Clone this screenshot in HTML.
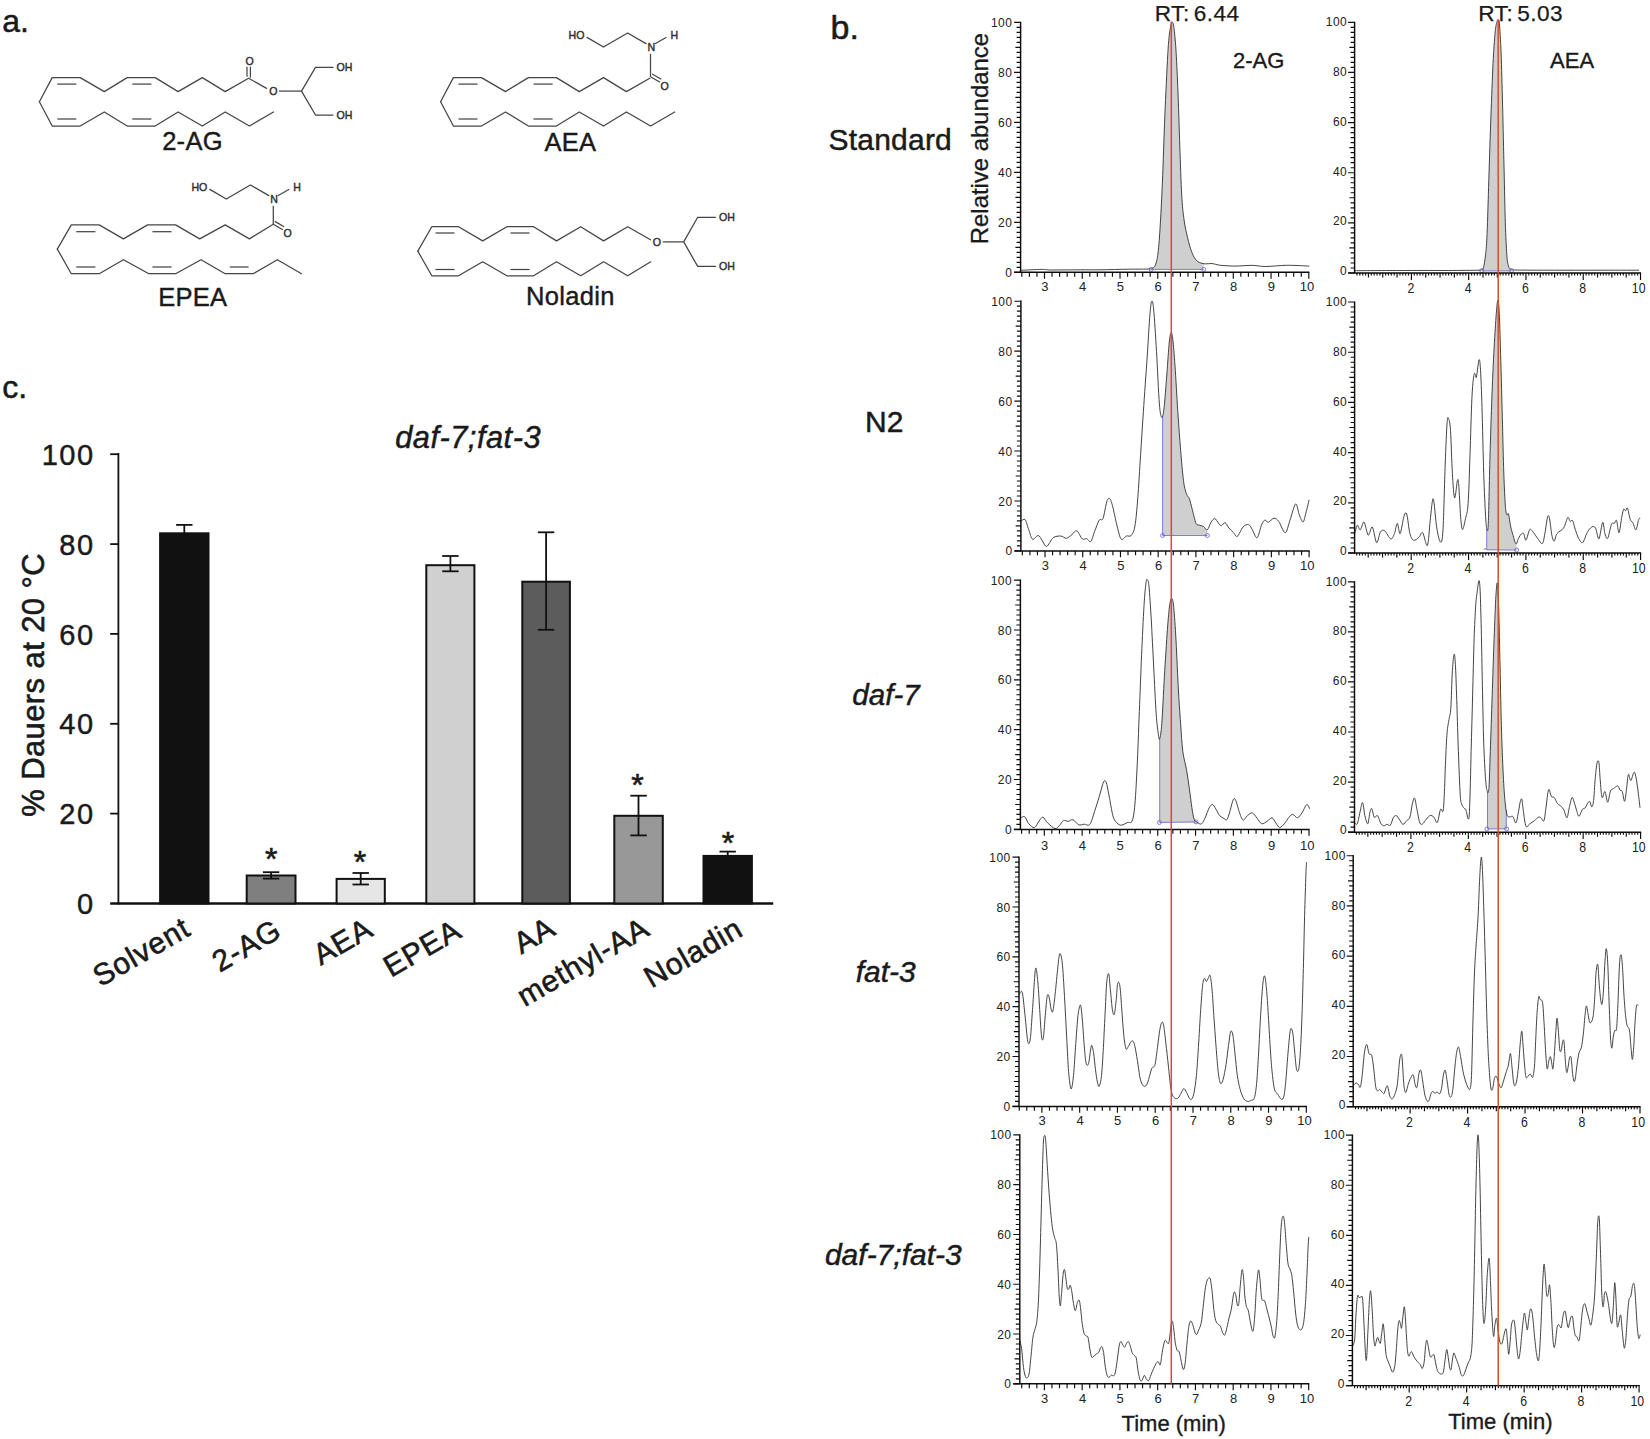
<!DOCTYPE html>
<html lang="en"><head><meta charset="utf-8"><title>Figure</title>
<style>html,body{margin:0;padding:0;background:#fff}body{width:1650px;height:1439px;overflow:hidden}svg text{font-family:"Liberation Sans",sans-serif}</style></head>
<body>
<svg width="1650" height="1439" viewBox="0 0 1650 1439" font-family='"Liberation Sans", sans-serif' style="display:block">
<g id="panel-a">
<text x="2.3" y="31.8" font-size="32" text-anchor="start" fill="#1a1a1a" stroke="#1a1a1a" stroke-width="0.51" >a.</text>
<polyline points="39.4,101.8 52.2,77.6 80.2,77.6 104.3,91.6 127.2,77.6 155.2,77.6 178.1,91.6 202.3,77.6 225.2,91.6 248.6,78.2" fill="none" stroke="#454545" stroke-width="1.25" stroke-linejoin="round" stroke-linecap="round" />
<polyline points="39.4,101.8 52.2,126.0 80.2,126.0 104.3,112.0 127.2,126.0 155.2,126.0 178.1,112.0 202.3,126.0 225.2,112.0 249.4,126.0 273.5,112.0" fill="none" stroke="#454545" stroke-width="1.25" stroke-linejoin="round" stroke-linecap="round" />
<line x1="57.3" y1="84.1" x2="76.3" y2="84.1" stroke="#454545" stroke-width="1.25" />
<line x1="132.3" y1="84.1" x2="151.4" y2="84.1" stroke="#454545" stroke-width="1.25" />
<line x1="57.3" y1="119.0" x2="76.3" y2="119.0" stroke="#454545" stroke-width="1.25" />
<line x1="132.3" y1="119.0" x2="151.4" y2="119.0" stroke="#454545" stroke-width="1.25" />
<line x1="247.0" y1="76.7" x2="247.0" y2="66.7" stroke="#454545" stroke-width="1.25" />
<line x1="250.4" y1="77.7" x2="250.4" y2="66.7" stroke="#454545" stroke-width="1.25" />
<text x="249.5" y="64.8" font-size="10.6" text-anchor="middle" fill="#2e2e2e" stroke="#2e2e2e" stroke-width="0.40" >O</text>
<line x1="248.6" y1="78.2" x2="267.0" y2="88.6" stroke="#454545" stroke-width="1.25" />
<text x="273.4" y="95.0" font-size="10.6" text-anchor="middle" fill="#2e2e2e" stroke="#2e2e2e" stroke-width="0.40" >O</text>
<line x1="279.0" y1="91.1" x2="301.5" y2="91.1" stroke="#454545" stroke-width="1.25" />
<polyline points="333.0,67.4 315.5,67.4 301.5,91.1 315.5,115.0 333.0,115.0" fill="none" stroke="#454545" stroke-width="1.25" stroke-linejoin="round" stroke-linecap="round" />
<text x="336.6" y="71.2" font-size="10.6" text-anchor="start" fill="#2e2e2e" stroke="#2e2e2e" stroke-width="0.40" >OH</text>
<text x="336.6" y="118.8" font-size="10.6" text-anchor="start" fill="#2e2e2e" stroke="#2e2e2e" stroke-width="0.40" >OH</text>
<text x="192.5" y="150.1" font-size="25.5" text-anchor="middle" fill="#1a1a1a" letter-spacing="0.3" stroke="#1a1a1a" stroke-width="0.41" >2-AG</text>
<polyline points="440.6,101.8 453.4,77.6 481.4,77.6 505.5,91.6 528.4,77.6 556.4,77.6 579.3,91.6 603.5,77.6 626.4,91.6 649.8,78.2" fill="none" stroke="#454545" stroke-width="1.25" stroke-linejoin="round" stroke-linecap="round" />
<polyline points="440.6,101.8 453.4,126.0 481.4,126.0 505.5,112.0 528.4,126.0 556.4,126.0 579.3,112.0 603.5,126.0 626.4,112.0 650.6,126.0 674.7,112.0" fill="none" stroke="#454545" stroke-width="1.25" stroke-linejoin="round" stroke-linecap="round" />
<line x1="458.5" y1="84.1" x2="477.5" y2="84.1" stroke="#454545" stroke-width="1.25" />
<line x1="533.5" y1="84.1" x2="552.6" y2="84.1" stroke="#454545" stroke-width="1.25" />
<line x1="458.5" y1="119.0" x2="477.5" y2="119.0" stroke="#454545" stroke-width="1.25" />
<line x1="533.5" y1="119.0" x2="552.6" y2="119.0" stroke="#454545" stroke-width="1.25" />
<line x1="650.5" y1="76.8" x2="660.0" y2="82.3" stroke="#454545" stroke-width="1.25" />
<line x1="652.1" y1="74.0" x2="661.3" y2="79.3" stroke="#454545" stroke-width="1.25" />
<text x="664.7" y="89.6" font-size="10.6" text-anchor="middle" fill="#2e2e2e" stroke="#2e2e2e" stroke-width="0.40" >O</text>
<line x1="650.5" y1="76.8" x2="650.5" y2="53.8" stroke="#454545" stroke-width="1.25" />
<text x="651.4" y="51.2" font-size="10.6" text-anchor="middle" fill="#2e2e2e" stroke="#2e2e2e" stroke-width="0.40" >N</text>
<line x1="655.0" y1="43.8" x2="666.5" y2="37.2" stroke="#454545" stroke-width="1.25" />
<text x="674.3" y="39.4" font-size="10.6" text-anchor="middle" fill="#2e2e2e" stroke="#2e2e2e" stroke-width="0.40" >H</text>
<polyline points="646.0,43.6 627.6,33.0 603.5,47.0 587.0,37.4" fill="none" stroke="#454545" stroke-width="1.25" stroke-linejoin="round" stroke-linecap="round" />
<text x="584.5" y="39.2" font-size="10.6" text-anchor="end" fill="#2e2e2e" stroke="#2e2e2e" stroke-width="0.40" >HO</text>
<text x="570.4" y="151.3" font-size="25.5" text-anchor="middle" fill="#1a1a1a" letter-spacing="0.3" stroke="#1a1a1a" stroke-width="0.41" >AEA</text>
<polyline points="57.3,249.1 71.3,224.9 99.2,224.9 123.4,238.9 147.6,224.9 175.6,224.9 199.7,238.9 225.2,224.9 249.4,238.9 273.3,224.2" fill="none" stroke="#454545" stroke-width="1.25" stroke-linejoin="round" stroke-linecap="round" />
<polyline points="57.3,249.1 71.3,273.7 99.2,273.7 123.4,259.7 148.9,273.7 175.6,273.7 201.0,259.7 225.2,273.7 253.2,273.7 277.4,259.7 301.5,273.7" fill="none" stroke="#454545" stroke-width="1.25" stroke-linejoin="round" stroke-linecap="round" />
<line x1="76.3" y1="231.7" x2="95.4" y2="231.7" stroke="#454545" stroke-width="1.25" />
<line x1="152.5" y1="231.7" x2="171.5" y2="231.7" stroke="#454545" stroke-width="1.25" />
<line x1="76.3" y1="267.0" x2="95.4" y2="267.0" stroke="#454545" stroke-width="1.25" />
<line x1="152.5" y1="267.0" x2="171.5" y2="267.0" stroke="#454545" stroke-width="1.25" />
<line x1="229.8" y1="267.0" x2="248.6" y2="267.0" stroke="#454545" stroke-width="1.25" />
<line x1="273.3" y1="224.2" x2="282.8" y2="229.7" stroke="#454545" stroke-width="1.25" />
<line x1="274.9" y1="221.4" x2="284.1" y2="226.7" stroke="#454545" stroke-width="1.25" />
<text x="287.5" y="237.0" font-size="10.6" text-anchor="middle" fill="#2e2e2e" stroke="#2e2e2e" stroke-width="0.40" >O</text>
<line x1="273.3" y1="224.2" x2="273.3" y2="205.8" stroke="#454545" stroke-width="1.25" />
<text x="274.2" y="203.2" font-size="10.6" text-anchor="middle" fill="#2e2e2e" stroke="#2e2e2e" stroke-width="0.40" >N</text>
<line x1="277.8" y1="195.8" x2="289.3" y2="189.2" stroke="#454545" stroke-width="1.25" />
<text x="297.1" y="191.4" font-size="10.6" text-anchor="middle" fill="#2e2e2e" stroke="#2e2e2e" stroke-width="0.40" >H</text>
<polyline points="268.8,195.6 250.4,185.0 226.3,199.0 209.8,189.4" fill="none" stroke="#454545" stroke-width="1.25" stroke-linejoin="round" stroke-linecap="round" />
<text x="207.3" y="191.2" font-size="10.6" text-anchor="end" fill="#2e2e2e" stroke="#2e2e2e" stroke-width="0.40" >HO</text>
<text x="192.8" y="306.2" font-size="25.5" text-anchor="middle" fill="#1a1a1a" letter-spacing="0.3" stroke="#1a1a1a" stroke-width="0.41" >EPEA</text>
<polyline points="417.8,251.1 431.8,226.7 458.5,226.7 482.7,240.9 506.9,226.7 533.6,226.7 556.5,240.9 580.7,226.7 603.6,240.9 627.7,226.7 650.5,239.8" fill="none" stroke="#454545" stroke-width="1.25" stroke-linejoin="round" stroke-linecap="round" />
<polyline points="417.8,251.1 431.8,275.8 458.5,275.8 482.7,261.8 506.9,275.8 533.6,275.8 556.5,261.8 580.7,275.8 603.6,261.8 627.7,275.8 650.7,261.8" fill="none" stroke="#454545" stroke-width="1.25" stroke-linejoin="round" stroke-linecap="round" />
<line x1="435.5" y1="233.0" x2="454.5" y2="233.0" stroke="#454545" stroke-width="1.25" />
<line x1="510.5" y1="233.0" x2="529.5" y2="233.0" stroke="#454545" stroke-width="1.25" />
<line x1="435.5" y1="269.5" x2="454.5" y2="269.5" stroke="#454545" stroke-width="1.25" />
<line x1="510.5" y1="269.5" x2="529.5" y2="269.5" stroke="#454545" stroke-width="1.25" />
<text x="656.9" y="245.8" font-size="10.6" text-anchor="middle" fill="#2e2e2e" stroke="#2e2e2e" stroke-width="0.40" >O</text>
<line x1="662.8" y1="241.9" x2="683.7" y2="241.9" stroke="#454545" stroke-width="1.25" />
<polyline points="715.5,217.3 697.7,217.3 683.7,241.9 697.7,266.4 715.5,266.4" fill="none" stroke="#454545" stroke-width="1.25" stroke-linejoin="round" stroke-linecap="round" />
<text x="719.1" y="221.1" font-size="10.6" text-anchor="start" fill="#2e2e2e" stroke="#2e2e2e" stroke-width="0.40" >OH</text>
<text x="719.1" y="270.2" font-size="10.6" text-anchor="start" fill="#2e2e2e" stroke="#2e2e2e" stroke-width="0.40" >OH</text>
<text x="570.4" y="305.0" font-size="25.5" text-anchor="middle" fill="#1a1a1a" letter-spacing="0.3" stroke="#1a1a1a" stroke-width="0.41" >Noladin</text>
</g>
<g id="panel-c">
<text x="2.3" y="398.2" font-size="32" text-anchor="start" fill="#1a1a1a" stroke="#1a1a1a" stroke-width="0.51" >c.</text>
<text x="468.1" y="448.4" font-size="30.8" text-anchor="middle" fill="#1a1a1a" letter-spacing="0.5" stroke="#1a1a1a" stroke-width="0.49"  font-style="italic">daf-7;fat-3</text>
<line x1="118.4" y1="453.0" x2="118.4" y2="904.5" stroke="#111" stroke-width="1.8" />
<line x1="110.2" y1="903.5" x2="773.2" y2="903.5" stroke="#111" stroke-width="2.3" />
<text x="94.6" y="914.1" font-size="29" text-anchor="end" fill="#1a1a1a" letter-spacing="1.5" stroke="#1a1a1a" stroke-width="0.46" >0</text>
<line x1="110.2" y1="813.6" x2="118.4" y2="813.6" stroke="#111" stroke-width="1.8" />
<text x="94.6" y="824.2" font-size="29" text-anchor="end" fill="#1a1a1a" letter-spacing="1.5" stroke="#1a1a1a" stroke-width="0.46" >20</text>
<line x1="110.2" y1="723.8" x2="118.4" y2="723.8" stroke="#111" stroke-width="1.8" />
<text x="94.6" y="734.4" font-size="29" text-anchor="end" fill="#1a1a1a" letter-spacing="1.5" stroke="#1a1a1a" stroke-width="0.46" >40</text>
<line x1="110.2" y1="633.9" x2="118.4" y2="633.9" stroke="#111" stroke-width="1.8" />
<text x="94.6" y="644.5" font-size="29" text-anchor="end" fill="#1a1a1a" letter-spacing="1.5" stroke="#1a1a1a" stroke-width="0.46" >60</text>
<line x1="110.2" y1="544.1" x2="118.4" y2="544.1" stroke="#111" stroke-width="1.8" />
<text x="94.6" y="554.7" font-size="29" text-anchor="end" fill="#1a1a1a" letter-spacing="1.5" stroke="#1a1a1a" stroke-width="0.46" >80</text>
<line x1="110.2" y1="454.2" x2="118.4" y2="454.2" stroke="#111" stroke-width="1.8" />
<text x="94.6" y="464.8" font-size="29" text-anchor="end" fill="#1a1a1a" letter-spacing="1.5" stroke="#1a1a1a" stroke-width="0.46" >100</text>
<text transform="translate(44.2,684.9) rotate(-90)" font-size="31" letter-spacing="0.4" text-anchor="middle" fill="#1a1a1a" stroke="#1a1a1a" stroke-width="0.6">% Dauers at 20 °C</text>
<rect x="160.1" y="533.3" width="48.4" height="370.2" fill="#111111" stroke="#111" stroke-width="2.0"/>
<line x1="184.3" y1="524.9" x2="184.3" y2="533.3" stroke="#111" stroke-width="1.8" />
<line x1="176.1" y1="524.9" x2="192.5" y2="524.9" stroke="#111" stroke-width="1.8" />
<rect x="246.7" y="875.5" width="48.8" height="28.0" fill="#7f7f7f" stroke="#111" stroke-width="2.0"/>
<line x1="271.1" y1="872.2" x2="271.1" y2="878.6" stroke="#111" stroke-width="1.8" />
<line x1="262.9" y1="872.2" x2="279.3" y2="872.2" stroke="#111" stroke-width="1.8" />
<line x1="262.9" y1="878.6" x2="279.3" y2="878.6" stroke="#111" stroke-width="1.8" />
<text x="271.2" y="870.4" font-size="32" text-anchor="middle" fill="#1a1a1a" stroke="#1a1a1a" stroke-width="0.6" >*</text>
<rect x="336.6" y="878.9" width="48.2" height="24.6" fill="#e6e6e6" stroke="#111" stroke-width="2.0"/>
<line x1="360.7" y1="873.0" x2="360.7" y2="884.5" stroke="#111" stroke-width="1.8" />
<line x1="352.5" y1="873.0" x2="368.9" y2="873.0" stroke="#111" stroke-width="1.8" />
<line x1="352.5" y1="884.5" x2="368.9" y2="884.5" stroke="#111" stroke-width="1.8" />
<text x="360.0" y="872.5" font-size="32" text-anchor="middle" fill="#1a1a1a" stroke="#1a1a1a" stroke-width="0.6" >*</text>
<rect x="426.3" y="565.2" width="48.1" height="338.3" fill="#d0d0d0" stroke="#111" stroke-width="2.0"/>
<line x1="450.4" y1="556.0" x2="450.4" y2="571.3" stroke="#111" stroke-width="1.8" />
<line x1="442.2" y1="556.0" x2="458.6" y2="556.0" stroke="#111" stroke-width="1.8" />
<line x1="442.2" y1="571.3" x2="458.6" y2="571.3" stroke="#111" stroke-width="1.8" />
<rect x="522.3" y="581.7" width="47.6" height="321.8" fill="#5c5c5c" stroke="#111" stroke-width="2.0"/>
<line x1="546.1" y1="532.3" x2="546.1" y2="629.8" stroke="#111" stroke-width="1.8" />
<line x1="537.9" y1="532.3" x2="554.3" y2="532.3" stroke="#111" stroke-width="1.8" />
<line x1="537.9" y1="629.8" x2="554.3" y2="629.8" stroke="#111" stroke-width="1.8" />
<rect x="614.3" y="815.8" width="48.5" height="87.7" fill="#989898" stroke="#111" stroke-width="2.0"/>
<line x1="638.5" y1="795.7" x2="638.5" y2="835.4" stroke="#111" stroke-width="1.8" />
<line x1="630.3" y1="795.7" x2="646.8" y2="795.7" stroke="#111" stroke-width="1.8" />
<line x1="630.3" y1="835.4" x2="646.8" y2="835.4" stroke="#111" stroke-width="1.8" />
<text x="637.4" y="796.1" font-size="32" text-anchor="middle" fill="#1a1a1a" stroke="#1a1a1a" stroke-width="0.6" >*</text>
<rect x="703.5" y="855.9" width="48.4" height="47.6" fill="#111111" stroke="#111" stroke-width="2.0"/>
<line x1="727.7" y1="851.6" x2="727.7" y2="855.9" stroke="#111" stroke-width="1.8" />
<line x1="719.5" y1="851.6" x2="735.9" y2="851.6" stroke="#111" stroke-width="1.8" />
<text x="727.9" y="854.1" font-size="32" text-anchor="middle" fill="#1a1a1a" stroke="#1a1a1a" stroke-width="0.6" >*</text>
<text transform="translate(192.5,934.0) rotate(-30)" font-size="30" letter-spacing="0.9" text-anchor="end" fill="#1a1a1a" stroke="#1a1a1a" stroke-width="0.6">Solvent</text>
<text transform="translate(283.5,936.0) rotate(-30)" font-size="30" letter-spacing="0.9" text-anchor="end" fill="#1a1a1a" stroke="#1a1a1a" stroke-width="0.6">2-AG</text>
<text transform="translate(375.0,934.5) rotate(-30)" font-size="30" letter-spacing="0.9" text-anchor="end" fill="#1a1a1a" stroke="#1a1a1a" stroke-width="0.6">AEA</text>
<text transform="translate(463.5,936.0) rotate(-30)" font-size="30" letter-spacing="0.9" text-anchor="end" fill="#1a1a1a" stroke="#1a1a1a" stroke-width="0.6">EPEA</text>
<text transform="translate(557.5,933.5) rotate(-30)" font-size="30" letter-spacing="0.9" text-anchor="end" fill="#1a1a1a" stroke="#1a1a1a" stroke-width="0.6">AA</text>
<text transform="translate(651.5,934.0) rotate(-30)" font-size="30" letter-spacing="0.9" text-anchor="end" fill="#1a1a1a" stroke="#1a1a1a" stroke-width="0.6">methyl-AA</text>
<text transform="translate(745.0,934.5) rotate(-30)" font-size="30" letter-spacing="0.9" text-anchor="end" fill="#1a1a1a" stroke="#1a1a1a" stroke-width="0.6">Noladin</text>
</g>
<g id="panel-b">
<text x="830.5" y="39.3" font-size="34" text-anchor="start" fill="#1a1a1a" stroke="#1a1a1a" stroke-width="0.54" >b.</text>
<text x="828.6" y="150.0" font-size="30" text-anchor="start" fill="#1a1a1a" letter-spacing="0.2" stroke="#1a1a1a" stroke-width="0.48" >Standard</text>
<text x="884.3" y="431.7" font-size="30" text-anchor="middle" fill="#1a1a1a" stroke="#1a1a1a" stroke-width="0.48" >N2</text>
<text x="886.0" y="705.1" font-size="29.6" text-anchor="middle" fill="#1a1a1a" stroke="#1a1a1a" stroke-width="0.47"  font-style="italic">daf-7</text>
<text x="885.7" y="982.0" font-size="30" text-anchor="middle" fill="#1a1a1a" stroke="#1a1a1a" stroke-width="0.48"  font-style="italic">fat-3</text>
<text x="893.3" y="1265.3" font-size="30" text-anchor="middle" fill="#1a1a1a" stroke="#1a1a1a" stroke-width="0.48"  font-style="italic">daf-7;fat-3</text>
<text transform="translate(987.5,138.6) rotate(-90)" font-size="23.9" text-anchor="middle" fill="#1a1a1a" stroke="#1a1a1a" stroke-width="0.3">Relative abundance</text>
<text x="1154.7" y="20.5" font-size="22.6" text-anchor="start" fill="#1a1a1a" letter-spacing="0.5" stroke="#1a1a1a" stroke-width="0.25" >RT:<tspan dx="-2.8"> 6.44</tspan></text>
<text x="1478.2" y="20.5" font-size="22.6" text-anchor="start" fill="#1a1a1a" letter-spacing="0.5" stroke="#1a1a1a" stroke-width="0.25" >RT:<tspan dx="-2.8"> 5.03</tspan></text>
<text x="1258.6" y="68.0" font-size="22" text-anchor="middle" fill="#1a1a1a" stroke="#1a1a1a" stroke-width="0.35" >2-AG</text>
<text x="1572.1" y="68.3" font-size="22" text-anchor="middle" fill="#1a1a1a" stroke="#1a1a1a" stroke-width="0.35" >AEA</text>
<text x="1173.7" y="1431.1" font-size="22" text-anchor="middle" fill="#1a1a1a" stroke="#1a1a1a" stroke-width="0.35" >Time (min)</text>
<text x="1500.4" y="1428.6" font-size="22" text-anchor="middle" fill="#1a1a1a" stroke="#1a1a1a" stroke-width="0.35" >Time (min)</text>
<clipPath id="cp-r1L"><rect x="1151.2" y="18.4" width="52.5" height="251.0"/></clipPath>
<path d="M1020.6,270.3C1024.0,270.2 1036.7,269.4 1041.6,269.4C1046.5,269.3 1045.1,269.9 1051.4,270.0C1057.6,270.0 1072.8,269.8 1080.5,269.8C1088.3,269.7 1092.2,269.9 1100.0,269.8C1107.8,269.7 1121.2,269.3 1129.2,269.2C1137.1,269.1 1145.8,269.2 1149.6,269.0C1152.9,268.8 1152.0,268.5 1152.9,267.8C1153.9,267.2 1154.6,267.2 1155.5,264.9C1156.3,262.6 1157.2,259.8 1158.0,253.2C1158.8,246.7 1159.6,236.5 1160.3,224.0C1161.1,211.6 1161.9,194.1 1162.7,175.4C1163.4,156.7 1164.3,127.5 1165.2,107.3C1166.1,87.1 1167.3,61.7 1168.1,48.9C1168.9,36.2 1169.8,31.7 1170.4,27.5C1171.1,23.3 1171.8,22.6 1172.4,22.6C1172.9,22.6 1173.4,23.3 1173.9,27.5C1174.5,31.7 1175.3,39.3 1175.9,48.9C1176.5,58.6 1177.2,72.3 1177.8,87.8C1178.5,103.4 1179.2,129.1 1179.8,146.2C1180.4,163.3 1181.0,183.0 1181.7,194.9C1182.4,206.7 1183.1,213.3 1184.1,220.1C1185.0,227.0 1186.4,232.7 1187.6,237.7C1188.7,242.6 1190.2,247.9 1191.5,251.3C1192.7,254.7 1194.1,257.3 1195.3,259.1C1196.6,260.8 1197.7,261.6 1199.2,262.4C1200.8,263.1 1203.0,263.7 1205.1,263.9C1207.1,264.1 1209.4,263.3 1211.9,263.5C1214.4,263.8 1216.7,264.9 1220.6,265.3C1224.5,265.7 1231.2,266.1 1236.2,266.1C1241.2,266.1 1247.1,265.2 1251.8,265.3C1256.4,265.4 1259.8,266.5 1265.4,266.5C1271.0,266.5 1279.8,265.4 1286.8,265.3C1293.8,265.2 1305.6,265.9 1309.2,266.1L1309.2,274.4L1020.6,274.4Z" fill="#cfcfcf" stroke="none" clip-path="url(#cp-r1L)"/>
<path d="M1151.2,269.4L1203.7,269.4" fill="none" stroke="#6a6ad2" stroke-width="0.85"/>
<circle cx="1151.2" cy="269.4" r="2.0" fill="none" stroke="#6a6ad2" stroke-width="0.85"/>
<circle cx="1203.7" cy="269.4" r="2.0" fill="none" stroke="#6a6ad2" stroke-width="0.85"/>
<path d="M1020.6,270.3C1024.0,270.2 1036.7,269.4 1041.6,269.4C1046.5,269.3 1045.1,269.9 1051.4,270.0C1057.6,270.0 1072.8,269.8 1080.5,269.8C1088.3,269.7 1092.2,269.9 1100.0,269.8C1107.8,269.7 1121.2,269.3 1129.2,269.2C1137.1,269.1 1145.8,269.2 1149.6,269.0C1152.9,268.8 1152.0,268.5 1152.9,267.8C1153.9,267.2 1154.6,267.2 1155.5,264.9C1156.3,262.6 1157.2,259.8 1158.0,253.2C1158.8,246.7 1159.6,236.5 1160.3,224.0C1161.1,211.6 1161.9,194.1 1162.7,175.4C1163.4,156.7 1164.3,127.5 1165.2,107.3C1166.1,87.1 1167.3,61.7 1168.1,48.9C1168.9,36.2 1169.8,31.7 1170.4,27.5C1171.1,23.3 1171.8,22.6 1172.4,22.6C1172.9,22.6 1173.4,23.3 1173.9,27.5C1174.5,31.7 1175.3,39.3 1175.9,48.9C1176.5,58.6 1177.2,72.3 1177.8,87.8C1178.5,103.4 1179.2,129.1 1179.8,146.2C1180.4,163.3 1181.0,183.0 1181.7,194.9C1182.4,206.7 1183.1,213.3 1184.1,220.1C1185.0,227.0 1186.4,232.7 1187.6,237.7C1188.7,242.6 1190.2,247.9 1191.5,251.3C1192.7,254.7 1194.1,257.3 1195.3,259.1C1196.6,260.8 1197.7,261.6 1199.2,262.4C1200.8,263.1 1203.0,263.7 1205.1,263.9C1207.1,264.1 1209.4,263.3 1211.9,263.5C1214.4,263.8 1216.7,264.9 1220.6,265.3C1224.5,265.7 1231.2,266.1 1236.2,266.1C1241.2,266.1 1247.1,265.2 1251.8,265.3C1256.4,265.4 1259.8,266.5 1265.4,266.5C1271.0,266.5 1279.8,265.4 1286.8,265.3C1293.8,265.2 1305.6,265.9 1309.2,266.1" fill="none" stroke="#3a3a3a" stroke-width="0.95" stroke-linejoin="round"/>
<path d="M1020.60,21.80V272.90M1014.10,272.30H1309.40" fill="none" stroke="#0c0c0c" stroke-width="1.45"/>
<path d="M1014.10,272.30H1020.60M1016.60,267.30H1020.60M1016.60,262.30H1020.60M1016.60,257.31H1020.60M1016.60,252.31H1020.60M1015.40,247.31H1020.60M1016.60,242.31H1020.60M1016.60,237.31H1020.60M1016.60,232.32H1020.60M1016.60,227.32H1020.60M1014.10,222.32H1020.60M1016.60,217.32H1020.60M1016.60,212.32H1020.60M1016.60,207.33H1020.60M1016.60,202.33H1020.60M1015.40,197.33H1020.60M1016.60,192.33H1020.60M1016.60,187.33H1020.60M1016.60,182.34H1020.60M1016.60,177.34H1020.60M1014.10,172.34H1020.60M1016.60,167.34H1020.60M1016.60,162.34H1020.60M1016.60,157.35H1020.60M1016.60,152.35H1020.60M1015.40,147.35H1020.60M1016.60,142.35H1020.60M1016.60,137.35H1020.60M1016.60,132.36H1020.60M1016.60,127.36H1020.60M1014.10,122.36H1020.60M1016.60,117.36H1020.60M1016.60,112.36H1020.60M1016.60,107.37H1020.60M1016.60,102.37H1020.60M1015.40,97.37H1020.60M1016.60,92.37H1020.60M1016.60,87.37H1020.60M1016.60,82.38H1020.60M1016.60,77.38H1020.60M1014.10,72.38H1020.60M1016.60,67.38H1020.60M1016.60,62.38H1020.60M1016.60,57.39H1020.60M1016.60,52.39H1020.60M1015.40,47.39H1020.60M1016.60,42.39H1020.60M1016.60,37.39H1020.60M1016.60,32.40H1020.60M1016.60,27.40H1020.60M1014.10,22.40H1020.60M1021.85,272.30V276.70M1029.40,272.30V276.70M1036.95,272.30V276.70M1044.50,272.30V278.70M1052.05,272.30V276.70M1059.60,272.30V276.70M1067.15,272.30V276.70M1074.71,272.30V276.70M1082.26,272.30V278.70M1089.81,272.30V276.70M1097.36,272.30V276.70M1104.91,272.30V276.70M1112.46,272.30V276.70M1120.01,272.30V278.70M1127.57,272.30V276.70M1135.12,272.30V276.70M1142.67,272.30V276.70M1150.22,272.30V276.70M1157.77,272.30V278.70M1165.32,272.30V276.70M1172.87,272.30V276.70M1180.43,272.30V276.70M1187.98,272.30V276.70M1195.53,272.30V278.70M1203.08,272.30V276.70M1210.63,272.30V276.70M1218.18,272.30V276.70M1225.73,272.30V276.70M1233.29,272.30V278.70M1240.84,272.30V276.70M1248.39,272.30V276.70M1255.94,272.30V276.70M1263.49,272.30V276.70M1271.04,272.30V278.70M1278.59,272.30V276.70M1286.15,272.30V276.70M1293.70,272.30V276.70M1301.25,272.30V276.70M1308.80,272.30V278.70" fill="none" stroke="#0c0c0c" stroke-width="1.15"/>
<text transform="translate(1012.3,276.8) scale(1,1.14)" font-size="12" letter-spacing="0.45" text-anchor="end" fill="#222">0</text>
<text transform="translate(1012.3,226.8) scale(1,1.14)" font-size="12" letter-spacing="0.45" text-anchor="end" fill="#222">20</text>
<text transform="translate(1012.3,176.8) scale(1,1.14)" font-size="12" letter-spacing="0.45" text-anchor="end" fill="#222">40</text>
<text transform="translate(1012.3,126.9) scale(1,1.14)" font-size="12" letter-spacing="0.45" text-anchor="end" fill="#222">60</text>
<text transform="translate(1012.3,76.9) scale(1,1.14)" font-size="12" letter-spacing="0.45" text-anchor="end" fill="#222">80</text>
<text transform="translate(1012.3,26.9) scale(1,1.14)" font-size="12" letter-spacing="0.45" text-anchor="end" fill="#222">100</text>
<text x="1044.8" y="291.1" font-size="13" text-anchor="middle" fill="#222" >3</text>
<text x="1082.6" y="291.1" font-size="13" text-anchor="middle" fill="#222" >4</text>
<text x="1120.3" y="291.1" font-size="13" text-anchor="middle" fill="#222" >5</text>
<text x="1158.1" y="291.1" font-size="13" text-anchor="middle" fill="#222" >6</text>
<text x="1195.8" y="291.1" font-size="13" text-anchor="middle" fill="#222" >7</text>
<text x="1233.6" y="291.1" font-size="13" text-anchor="middle" fill="#222" >8</text>
<text x="1271.3" y="291.1" font-size="13" text-anchor="middle" fill="#222" >9</text>
<text x="1307.0" y="291.1" font-size="13" text-anchor="middle" fill="#222" >10</text>
<clipPath id="cp-r1R"><rect x="1481.8" y="18.3" width="29.7" height="252.6"/></clipPath>
<path d="M1354.7,270.7C1362.9,270.6 1391.1,270.5 1406.1,270.5C1421.1,270.4 1436.8,270.5 1448.5,270.5C1460.2,270.4 1473.9,270.4 1479.2,270.2C1482.0,270.1 1481.3,269.8 1482.0,269.4C1482.7,269.0 1482.9,270.1 1483.5,267.7C1484.1,265.3 1485.0,260.0 1485.6,254.5C1486.2,249.0 1486.6,245.2 1487.1,233.3C1487.6,221.5 1488.2,199.0 1488.8,180.3C1489.4,161.6 1490.2,135.3 1490.9,116.7C1491.6,98.0 1492.4,77.2 1493.0,63.6C1493.7,50.1 1494.5,38.7 1495.2,31.8C1495.8,25.0 1496.8,22.7 1497.3,20.8C1497.8,18.9 1498.0,19.7 1498.3,20.2C1498.7,20.6 1499.0,18.1 1499.4,23.3C1499.8,28.6 1500.6,39.8 1501.1,53.0C1501.6,66.3 1502.1,87.4 1502.6,106.1C1503.1,124.7 1503.6,151.0 1504.1,169.7C1504.5,188.4 1504.9,209.2 1505.3,222.7C1505.8,236.3 1506.3,247.6 1506.8,254.5C1507.3,261.5 1507.8,263.8 1508.5,266.2C1509.2,268.6 1510.1,268.8 1511.1,269.4C1512.0,270.0 1511.1,269.9 1514.2,270.0C1521.2,270.2 1541.3,270.2 1554.5,270.2C1567.8,270.3 1583.5,270.2 1597.0,270.2C1610.5,270.2 1632.2,270.2 1639.0,270.2L1639.0,275.9L1354.7,275.9Z" fill="#cfcfcf" stroke="none" clip-path="url(#cp-r1R)"/>
<path d="M1481.8,270.9L1511.5,270.9" fill="none" stroke="#6a6ad2" stroke-width="0.85"/>
<circle cx="1481.8" cy="270.7" r="2.0" fill="none" stroke="#6a6ad2" stroke-width="0.85"/>
<circle cx="1511.5" cy="270.7" r="2.0" fill="none" stroke="#6a6ad2" stroke-width="0.85"/>
<path d="M1354.7,270.7C1362.9,270.6 1391.1,270.5 1406.1,270.5C1421.1,270.4 1436.8,270.5 1448.5,270.5C1460.2,270.4 1473.9,270.4 1479.2,270.2C1482.0,270.1 1481.3,269.8 1482.0,269.4C1482.7,269.0 1482.9,270.1 1483.5,267.7C1484.1,265.3 1485.0,260.0 1485.6,254.5C1486.2,249.0 1486.6,245.2 1487.1,233.3C1487.6,221.5 1488.2,199.0 1488.8,180.3C1489.4,161.6 1490.2,135.3 1490.9,116.7C1491.6,98.0 1492.4,77.2 1493.0,63.6C1493.7,50.1 1494.5,38.7 1495.2,31.8C1495.8,25.0 1496.8,22.7 1497.3,20.8C1497.8,18.9 1498.0,19.7 1498.3,20.2C1498.7,20.6 1499.0,18.1 1499.4,23.3C1499.8,28.6 1500.6,39.8 1501.1,53.0C1501.6,66.3 1502.1,87.4 1502.6,106.1C1503.1,124.7 1503.6,151.0 1504.1,169.7C1504.5,188.4 1504.9,209.2 1505.3,222.7C1505.8,236.3 1506.3,247.6 1506.8,254.5C1507.3,261.5 1507.8,263.8 1508.5,266.2C1509.2,268.6 1510.1,268.8 1511.1,269.4C1512.0,270.0 1511.1,269.9 1514.2,270.0C1521.2,270.2 1541.3,270.2 1554.5,270.2C1567.8,270.3 1583.5,270.2 1597.0,270.2C1610.5,270.2 1632.2,270.2 1639.0,270.2" fill="none" stroke="#3a3a3a" stroke-width="0.95" stroke-linejoin="round"/>
<path d="M1354.60,21.70V273.60M1348.10,273.00H1641.10" fill="none" stroke="#0c0c0c" stroke-width="1.45"/>
<path d="M1348.10,273.00H1354.60M1350.60,267.99H1354.60M1350.60,262.97H1354.60M1350.60,257.96H1354.60M1350.60,252.94H1354.60M1349.40,247.93H1354.60M1350.60,242.92H1354.60M1350.60,237.90H1354.60M1350.60,232.89H1354.60M1350.60,227.87H1354.60M1348.10,222.86H1354.60M1350.60,217.85H1354.60M1350.60,212.83H1354.60M1350.60,207.82H1354.60M1350.60,202.80H1354.60M1349.40,197.79H1354.60M1350.60,192.78H1354.60M1350.60,187.76H1354.60M1350.60,182.75H1354.60M1350.60,177.73H1354.60M1348.10,172.72H1354.60M1350.60,167.71H1354.60M1350.60,162.69H1354.60M1350.60,157.68H1354.60M1350.60,152.66H1354.60M1349.40,147.65H1354.60M1350.60,142.64H1354.60M1350.60,137.62H1354.60M1350.60,132.61H1354.60M1350.60,127.59H1354.60M1348.10,122.58H1354.60M1350.60,117.57H1354.60M1350.60,112.55H1354.60M1350.60,107.54H1354.60M1350.60,102.52H1354.60M1349.40,97.51H1354.60M1350.60,92.50H1354.60M1350.60,87.48H1354.60M1350.60,82.47H1354.60M1350.60,77.45H1354.60M1348.10,72.44H1354.60M1350.60,67.43H1354.60M1350.60,62.41H1354.60M1350.60,57.40H1354.60M1350.60,52.38H1354.60M1349.40,47.37H1354.60M1350.60,42.36H1354.60M1350.60,37.34H1354.60M1350.60,32.33H1354.60M1350.60,27.31H1354.60M1348.10,22.30H1354.60M1356.99,273.00V275.60M1359.85,273.00V275.60M1362.72,273.00V275.60M1365.58,273.00V275.60M1368.44,273.00V277.60M1371.31,273.00V275.60M1374.17,273.00V275.60M1377.04,273.00V275.60M1379.90,273.00V275.60M1382.76,273.00V277.60M1385.63,273.00V275.60M1388.49,273.00V275.60M1391.35,273.00V275.60M1394.22,273.00V275.60M1397.08,273.00V277.60M1399.95,273.00V275.60M1402.81,273.00V275.60M1405.67,273.00V275.60M1408.54,273.00V275.60M1411.40,273.00V279.90M1414.26,273.00V275.60M1417.13,273.00V275.60M1419.99,273.00V275.60M1422.86,273.00V275.60M1425.72,273.00V277.60M1428.58,273.00V275.60M1431.45,273.00V275.60M1434.31,273.00V275.60M1437.17,273.00V275.60M1440.04,273.00V277.60M1442.90,273.00V275.60M1445.77,273.00V275.60M1448.63,273.00V275.60M1451.49,273.00V275.60M1454.36,273.00V277.60M1457.22,273.00V275.60M1460.08,273.00V275.60M1462.95,273.00V275.60M1465.81,273.00V275.60M1468.68,273.00V279.90M1471.54,273.00V275.60M1474.40,273.00V275.60M1477.27,273.00V275.60M1480.13,273.00V275.60M1482.99,273.00V277.60M1485.86,273.00V275.60M1488.72,273.00V275.60M1491.59,273.00V275.60M1494.45,273.00V275.60M1497.31,273.00V277.60M1500.18,273.00V275.60M1503.04,273.00V275.60M1505.90,273.00V275.60M1508.77,273.00V275.60M1511.63,273.00V277.60M1514.50,273.00V275.60M1517.36,273.00V275.60M1520.22,273.00V275.60M1523.09,273.00V275.60M1525.95,273.00V279.90M1528.81,273.00V275.60M1531.68,273.00V275.60M1534.54,273.00V275.60M1537.40,273.00V275.60M1540.27,273.00V277.60M1543.13,273.00V275.60M1546.00,273.00V275.60M1548.86,273.00V275.60M1551.72,273.00V275.60M1554.59,273.00V277.60M1557.45,273.00V275.60M1560.32,273.00V275.60M1563.18,273.00V275.60M1566.04,273.00V275.60M1568.91,273.00V277.60M1571.77,273.00V275.60M1574.63,273.00V275.60M1577.50,273.00V275.60M1580.36,273.00V275.60M1583.22,273.00V279.90M1586.09,273.00V275.60M1588.95,273.00V275.60M1591.82,273.00V275.60M1594.68,273.00V275.60M1597.54,273.00V277.60M1600.41,273.00V275.60M1603.27,273.00V275.60M1606.13,273.00V275.60M1609.00,273.00V275.60M1611.86,273.00V277.60M1614.73,273.00V275.60M1617.59,273.00V275.60M1620.45,273.00V275.60M1623.32,273.00V275.60M1626.18,273.00V277.60M1629.05,273.00V275.60M1631.91,273.00V275.60M1634.77,273.00V275.60M1637.64,273.00V275.60M1640.50,273.00V279.90" fill="none" stroke="#0c0c0c" stroke-width="1.15"/>
<text transform="translate(1347.2,275.2) scale(1,1.14)" font-size="12" letter-spacing="0.45" text-anchor="end" fill="#222">0</text>
<text transform="translate(1347.2,225.4) scale(1,1.14)" font-size="12" letter-spacing="0.45" text-anchor="end" fill="#222">20</text>
<text transform="translate(1347.2,175.6) scale(1,1.14)" font-size="12" letter-spacing="0.45" text-anchor="end" fill="#222">40</text>
<text transform="translate(1347.2,125.8) scale(1,1.14)" font-size="12" letter-spacing="0.45" text-anchor="end" fill="#222">60</text>
<text transform="translate(1347.2,76.0) scale(1,1.14)" font-size="12" letter-spacing="0.45" text-anchor="end" fill="#222">80</text>
<text transform="translate(1347.2,26.2) scale(1,1.14)" font-size="12" letter-spacing="0.45" text-anchor="end" fill="#222">100</text>
<text transform="translate(1410.8,292.6) scale(1,1.17)" font-size="12.3" text-anchor="middle" fill="#222">2</text>
<text transform="translate(1468.1,292.6) scale(1,1.17)" font-size="12.3" text-anchor="middle" fill="#222">4</text>
<text transform="translate(1525.4,292.6) scale(1,1.17)" font-size="12.3" text-anchor="middle" fill="#222">6</text>
<text transform="translate(1582.6,292.6) scale(1,1.17)" font-size="12.3" text-anchor="middle" fill="#222">8</text>
<text transform="translate(1638.7,292.6) scale(1,1.17)" font-size="12.3" text-anchor="middle" fill="#222">10</text>
<clipPath id="cp-r2L"><rect x="1162.6" y="297.2" width="44.7" height="238.3"/></clipPath>
<path d="M1020.9,521.4C1021.6,521.1 1023.8,518.2 1025.0,519.5C1026.3,520.9 1027.6,526.7 1028.8,529.8C1030.0,533.0 1031.0,538.3 1032.5,539.2C1034.0,540.1 1036.7,535.3 1038.2,535.5C1039.7,535.6 1040.6,538.4 1041.9,540.2C1043.3,541.9 1044.8,546.8 1046.6,546.4C1048.4,546.0 1051.0,539.4 1053.2,537.7C1055.5,536.1 1058.6,536.0 1060.7,536.0C1062.8,536.1 1064.6,538.5 1066.4,538.3C1068.2,538.1 1070.3,535.7 1072.0,534.5C1073.7,533.3 1075.0,530.1 1076.7,530.8C1078.4,531.5 1080.7,537.6 1082.3,538.9C1083.9,540.1 1085.3,538.3 1086.7,538.7C1088.0,539.1 1089.5,542.6 1090.8,541.5C1092.1,540.4 1093.2,535.2 1094.5,531.7C1095.9,528.3 1097.9,522.2 1099.2,520.1C1100.6,518.0 1101.8,521.5 1103.0,518.6C1104.2,515.6 1105.7,504.9 1106.8,501.7C1107.8,498.5 1108.7,497.9 1109.6,498.5C1110.5,499.1 1111.2,501.0 1112.4,505.4C1113.6,509.8 1115.7,520.7 1117.1,526.1C1118.5,531.5 1119.7,537.6 1121.2,539.2C1122.7,540.8 1124.9,536.6 1126.5,536.0C1128.1,535.4 1129.8,537.1 1131.2,535.5C1132.5,533.9 1133.9,532.1 1134.9,526.1C1136.0,520.1 1136.9,509.3 1137.8,497.9C1138.7,486.5 1139.7,468.5 1140.6,454.7C1141.5,440.9 1142.3,427.1 1143.4,411.5C1144.4,395.9 1146.1,372.6 1147.2,357.0C1148.2,341.4 1149.2,322.7 1150.0,313.8C1150.7,304.9 1151.2,301.8 1151.8,301.2C1152.4,300.6 1153.0,302.0 1153.7,310.0C1154.5,318.1 1155.6,336.3 1156.5,351.4C1157.4,366.4 1158.5,393.4 1159.4,404.0C1160.2,414.6 1161.1,416.9 1161.8,417.5C1162.6,418.1 1163.2,414.7 1164.1,407.7C1164.9,400.8 1166.0,384.4 1166.9,373.9C1167.7,363.4 1168.6,348.6 1169.3,342.0C1170.0,335.4 1170.6,332.6 1171.2,332.6C1171.8,332.6 1172.4,336.0 1173.1,342.0C1173.7,348.0 1174.5,358.1 1175.3,370.2C1176.1,382.2 1177.2,403.6 1178.2,417.1C1179.1,430.6 1180.1,444.2 1181.0,454.7C1181.9,465.2 1182.9,476.6 1183.8,482.9C1184.7,489.2 1185.7,491.6 1186.6,494.2C1187.5,496.7 1188.5,496.4 1189.4,498.8C1190.3,501.3 1191.2,505.3 1192.2,509.2C1193.3,513.1 1194.8,520.7 1196.0,523.3C1197.2,525.8 1198.6,524.6 1199.8,525.2C1201.0,525.7 1202.3,525.7 1203.5,526.5C1204.7,527.2 1206.1,530.5 1207.3,529.8C1208.5,529.2 1209.8,524.1 1211.0,522.3C1212.2,520.5 1213.6,518.4 1214.8,518.6C1216.0,518.7 1217.5,522.1 1218.5,523.3C1219.6,524.4 1220.3,525.8 1221.4,525.7C1222.4,525.6 1223.9,522.3 1225.1,522.7C1226.3,523.1 1227.5,526.4 1228.9,528.0C1230.2,529.6 1232.2,531.3 1233.6,532.7C1234.9,534.0 1235.8,537.3 1237.3,536.4C1238.8,535.5 1241.2,528.9 1243.0,527.0C1244.8,525.1 1247.1,524.1 1248.6,524.6C1250.1,525.0 1251.0,527.7 1252.4,529.8C1253.7,532.0 1255.6,538.6 1257.1,537.7C1258.6,536.8 1260.5,527.0 1261.8,524.2C1263.1,521.4 1264.1,520.4 1265.1,520.1C1266.2,519.8 1266.9,522.6 1268.3,522.3C1269.7,522.0 1272.3,518.4 1274.0,518.2C1275.6,518.0 1276.9,519.1 1278.7,521.4C1280.5,523.7 1283.4,532.8 1285.2,532.7C1287.0,532.5 1288.3,525.1 1289.9,520.5C1291.6,515.9 1294.1,504.8 1295.6,503.9C1297.1,503.0 1298.1,511.9 1299.3,514.8C1300.5,517.7 1302.0,522.3 1303.1,522.0C1304.1,521.7 1304.9,516.5 1305.9,512.9C1306.9,509.4 1308.6,501.9 1309.1,499.8L1309.1,540.5L1020.9,540.5Z" fill="#cfcfcf" stroke="none" clip-path="url(#cp-r2L)"/>
<path d="M1162.6,416.2L1162.6,535.5L1207.3,535.5" fill="none" stroke="#6a6ad2" stroke-width="0.85"/>
<circle cx="1162.6" cy="535.5" r="2.0" fill="none" stroke="#6a6ad2" stroke-width="0.85"/>
<circle cx="1207.3" cy="535.5" r="2.0" fill="none" stroke="#6a6ad2" stroke-width="0.85"/>
<path d="M1020.9,521.4C1021.6,521.1 1023.8,518.2 1025.0,519.5C1026.3,520.9 1027.6,526.7 1028.8,529.8C1030.0,533.0 1031.0,538.3 1032.5,539.2C1034.0,540.1 1036.7,535.3 1038.2,535.5C1039.7,535.6 1040.6,538.4 1041.9,540.2C1043.3,541.9 1044.8,546.8 1046.6,546.4C1048.4,546.0 1051.0,539.4 1053.2,537.7C1055.5,536.1 1058.6,536.0 1060.7,536.0C1062.8,536.1 1064.6,538.5 1066.4,538.3C1068.2,538.1 1070.3,535.7 1072.0,534.5C1073.7,533.3 1075.0,530.1 1076.7,530.8C1078.4,531.5 1080.7,537.6 1082.3,538.9C1083.9,540.1 1085.3,538.3 1086.7,538.7C1088.0,539.1 1089.5,542.6 1090.8,541.5C1092.1,540.4 1093.2,535.2 1094.5,531.7C1095.9,528.3 1097.9,522.2 1099.2,520.1C1100.6,518.0 1101.8,521.5 1103.0,518.6C1104.2,515.6 1105.7,504.9 1106.8,501.7C1107.8,498.5 1108.7,497.9 1109.6,498.5C1110.5,499.1 1111.2,501.0 1112.4,505.4C1113.6,509.8 1115.7,520.7 1117.1,526.1C1118.5,531.5 1119.7,537.6 1121.2,539.2C1122.7,540.8 1124.9,536.6 1126.5,536.0C1128.1,535.4 1129.8,537.1 1131.2,535.5C1132.5,533.9 1133.9,532.1 1134.9,526.1C1136.0,520.1 1136.9,509.3 1137.8,497.9C1138.7,486.5 1139.7,468.5 1140.6,454.7C1141.5,440.9 1142.3,427.1 1143.4,411.5C1144.4,395.9 1146.1,372.6 1147.2,357.0C1148.2,341.4 1149.2,322.7 1150.0,313.8C1150.7,304.9 1151.2,301.8 1151.8,301.2C1152.4,300.6 1153.0,302.0 1153.7,310.0C1154.5,318.1 1155.6,336.3 1156.5,351.4C1157.4,366.4 1158.5,393.4 1159.4,404.0C1160.2,414.6 1161.1,416.9 1161.8,417.5C1162.6,418.1 1163.2,414.7 1164.1,407.7C1164.9,400.8 1166.0,384.4 1166.9,373.9C1167.7,363.4 1168.6,348.6 1169.3,342.0C1170.0,335.4 1170.6,332.6 1171.2,332.6C1171.8,332.6 1172.4,336.0 1173.1,342.0C1173.7,348.0 1174.5,358.1 1175.3,370.2C1176.1,382.2 1177.2,403.6 1178.2,417.1C1179.1,430.6 1180.1,444.2 1181.0,454.7C1181.9,465.2 1182.9,476.6 1183.8,482.9C1184.7,489.2 1185.7,491.6 1186.6,494.2C1187.5,496.7 1188.5,496.4 1189.4,498.8C1190.3,501.3 1191.2,505.3 1192.2,509.2C1193.3,513.1 1194.8,520.7 1196.0,523.3C1197.2,525.8 1198.6,524.6 1199.8,525.2C1201.0,525.7 1202.3,525.7 1203.5,526.5C1204.7,527.2 1206.1,530.5 1207.3,529.8C1208.5,529.2 1209.8,524.1 1211.0,522.3C1212.2,520.5 1213.6,518.4 1214.8,518.6C1216.0,518.7 1217.5,522.1 1218.5,523.3C1219.6,524.4 1220.3,525.8 1221.4,525.7C1222.4,525.6 1223.9,522.3 1225.1,522.7C1226.3,523.1 1227.5,526.4 1228.9,528.0C1230.2,529.6 1232.2,531.3 1233.6,532.7C1234.9,534.0 1235.8,537.3 1237.3,536.4C1238.8,535.5 1241.2,528.9 1243.0,527.0C1244.8,525.1 1247.1,524.1 1248.6,524.6C1250.1,525.0 1251.0,527.7 1252.4,529.8C1253.7,532.0 1255.6,538.6 1257.1,537.7C1258.6,536.8 1260.5,527.0 1261.8,524.2C1263.1,521.4 1264.1,520.4 1265.1,520.1C1266.2,519.8 1266.9,522.6 1268.3,522.3C1269.7,522.0 1272.3,518.4 1274.0,518.2C1275.6,518.0 1276.9,519.1 1278.7,521.4C1280.5,523.7 1283.4,532.8 1285.2,532.7C1287.0,532.5 1288.3,525.1 1289.9,520.5C1291.6,515.9 1294.1,504.8 1295.6,503.9C1297.1,503.0 1298.1,511.9 1299.3,514.8C1300.5,517.7 1302.0,522.3 1303.1,522.0C1304.1,521.7 1304.9,516.5 1305.9,512.9C1306.9,509.4 1308.6,501.9 1309.1,499.8" fill="none" stroke="#3a3a3a" stroke-width="0.95" stroke-linejoin="round"/>
<path d="M1020.90,300.60V551.50M1014.40,550.90H1309.70" fill="none" stroke="#0c0c0c" stroke-width="1.45"/>
<path d="M1014.40,550.90H1020.90M1016.90,545.91H1020.90M1016.90,540.91H1020.90M1016.90,535.92H1020.90M1016.90,530.92H1020.90M1015.70,525.93H1020.90M1016.90,520.94H1020.90M1016.90,515.94H1020.90M1016.90,510.95H1020.90M1016.90,505.95H1020.90M1014.40,500.96H1020.90M1016.90,495.97H1020.90M1016.90,490.97H1020.90M1016.90,485.98H1020.90M1016.90,480.98H1020.90M1015.70,475.99H1020.90M1016.90,471.00H1020.90M1016.90,466.00H1020.90M1016.90,461.01H1020.90M1016.90,456.01H1020.90M1014.40,451.02H1020.90M1016.90,446.03H1020.90M1016.90,441.03H1020.90M1016.90,436.04H1020.90M1016.90,431.04H1020.90M1015.70,426.05H1020.90M1016.90,421.06H1020.90M1016.90,416.06H1020.90M1016.90,411.07H1020.90M1016.90,406.07H1020.90M1014.40,401.08H1020.90M1016.90,396.09H1020.90M1016.90,391.09H1020.90M1016.90,386.10H1020.90M1016.90,381.10H1020.90M1015.70,376.11H1020.90M1016.90,371.12H1020.90M1016.90,366.12H1020.90M1016.90,361.13H1020.90M1016.90,356.13H1020.90M1014.40,351.14H1020.90M1016.90,346.15H1020.90M1016.90,341.15H1020.90M1016.90,336.16H1020.90M1016.90,331.16H1020.90M1015.70,326.17H1020.90M1016.90,321.18H1020.90M1016.90,316.18H1020.90M1016.90,311.19H1020.90M1016.90,306.19H1020.90M1014.40,301.20H1020.90M1022.36,550.90V555.30M1029.91,550.90V555.30M1037.45,550.90V555.30M1045.00,550.90V557.30M1052.55,550.90V555.30M1060.09,550.90V555.30M1067.64,550.90V555.30M1075.18,550.90V555.30M1082.73,550.90V557.30M1090.27,550.90V555.30M1097.82,550.90V555.30M1105.37,550.90V555.30M1112.91,550.90V555.30M1120.46,550.90V557.30M1128.00,550.90V555.30M1135.55,550.90V555.30M1143.09,550.90V555.30M1150.64,550.90V555.30M1158.19,550.90V557.30M1165.73,550.90V555.30M1173.28,550.90V555.30M1180.82,550.90V555.30M1188.37,550.90V555.30M1195.91,550.90V557.30M1203.46,550.90V555.30M1211.01,550.90V555.30M1218.55,550.90V555.30M1226.10,550.90V555.30M1233.64,550.90V557.30M1241.19,550.90V555.30M1248.73,550.90V555.30M1256.28,550.90V555.30M1263.83,550.90V555.30M1271.37,550.90V557.30M1278.92,550.90V555.30M1286.46,550.90V555.30M1294.01,550.90V555.30M1301.55,550.90V555.30M1309.10,550.90V557.30" fill="none" stroke="#0c0c0c" stroke-width="1.15"/>
<text transform="translate(1012.6,555.4) scale(1,1.14)" font-size="12" letter-spacing="0.45" text-anchor="end" fill="#222">0</text>
<text transform="translate(1012.6,505.5) scale(1,1.14)" font-size="12" letter-spacing="0.45" text-anchor="end" fill="#222">20</text>
<text transform="translate(1012.6,455.5) scale(1,1.14)" font-size="12" letter-spacing="0.45" text-anchor="end" fill="#222">40</text>
<text transform="translate(1012.6,405.6) scale(1,1.14)" font-size="12" letter-spacing="0.45" text-anchor="end" fill="#222">60</text>
<text transform="translate(1012.6,355.6) scale(1,1.14)" font-size="12" letter-spacing="0.45" text-anchor="end" fill="#222">80</text>
<text transform="translate(1012.6,305.7) scale(1,1.14)" font-size="12" letter-spacing="0.45" text-anchor="end" fill="#222">100</text>
<text x="1045.3" y="569.7" font-size="13" text-anchor="middle" fill="#222" >3</text>
<text x="1083.0" y="569.7" font-size="13" text-anchor="middle" fill="#222" >4</text>
<text x="1120.8" y="569.7" font-size="13" text-anchor="middle" fill="#222" >5</text>
<text x="1158.5" y="569.7" font-size="13" text-anchor="middle" fill="#222" >6</text>
<text x="1196.2" y="569.7" font-size="13" text-anchor="middle" fill="#222" >7</text>
<text x="1233.9" y="569.7" font-size="13" text-anchor="middle" fill="#222" >8</text>
<text x="1271.7" y="569.7" font-size="13" text-anchor="middle" fill="#222" >9</text>
<text x="1307.3" y="569.7" font-size="13" text-anchor="middle" fill="#222" >10</text>
<clipPath id="cp-r2R"><rect x="1486.7" y="298.0" width="29.9" height="252.0"/></clipPath>
<path d="M1354.7,533.6C1355.1,532.3 1356.4,525.8 1357.3,525.2C1358.2,524.6 1359.2,530.4 1360.3,529.8C1361.4,529.3 1362.8,521.1 1364.0,522.0C1365.3,522.8 1366.9,534.3 1368.2,535.1C1369.5,535.9 1371.0,525.8 1372.3,527.0C1373.7,528.2 1375.3,541.8 1376.6,542.6C1377.9,543.4 1379.1,534.0 1380.4,532.1C1381.7,530.2 1383.1,529.7 1384.7,530.8C1386.4,531.9 1389.2,538.4 1390.7,538.9C1392.3,539.3 1393.4,536.1 1394.5,533.6C1395.5,531.1 1396.4,523.3 1397.3,523.3C1398.2,523.3 1399.1,534.7 1400.1,533.6C1401.2,532.6 1402.8,519.9 1403.9,516.7C1404.9,513.5 1405.7,511.2 1406.7,513.9C1407.7,516.6 1408.8,529.4 1409.9,533.6C1411.0,537.8 1412.2,539.6 1413.6,540.2C1415.1,540.8 1417.5,538.6 1418.9,537.4C1420.4,536.2 1421.3,531.4 1422.7,532.7C1424.0,534.0 1426.2,547.4 1427.4,545.4C1428.6,543.5 1429.4,527.5 1430.2,520.5C1431.0,513.4 1431.8,504.1 1432.4,501.1C1433.0,498.1 1433.2,497.4 1433.9,501.7C1434.6,506.0 1435.7,521.5 1436.8,528.0C1437.8,534.4 1439.5,541.8 1440.5,542.1C1441.5,542.4 1442.2,542.3 1443.0,529.8C1443.7,517.4 1444.6,481.2 1445.2,464.1C1445.9,447.0 1446.5,430.0 1447.1,422.8C1447.6,415.5 1448.1,417.4 1448.6,418.6C1449.1,419.8 1449.9,421.5 1450.5,430.3C1451.1,439.1 1451.7,462.7 1452.4,473.5C1453.0,484.3 1453.8,496.8 1454.6,497.9C1455.4,499.1 1456.8,482.7 1457.4,480.6C1458.1,478.5 1458.2,479.0 1458.7,484.8C1459.3,490.5 1460.0,509.5 1460.6,516.7C1461.2,523.9 1461.7,529.2 1462.5,529.5C1463.3,529.8 1464.6,522.7 1465.5,518.6C1466.4,514.4 1467.4,513.8 1468.1,503.5C1468.9,493.3 1469.4,471.5 1470.0,454.7C1470.6,437.9 1471.3,411.0 1471.9,398.3C1472.5,385.7 1473.2,379.7 1473.8,375.8C1474.3,371.9 1474.9,373.7 1475.3,373.9C1475.7,374.1 1475.8,379.4 1476.4,377.1C1477.0,374.8 1478.4,360.9 1479.0,359.8C1479.7,358.7 1480.1,362.5 1480.5,370.2C1481.0,377.8 1481.5,391.2 1482.0,407.7C1482.5,424.3 1483.2,456.0 1483.7,473.5C1484.3,490.9 1485.1,507.7 1485.6,516.7C1486.1,525.7 1486.7,529.2 1487.1,529.8C1487.6,530.4 1487.9,534.0 1488.4,520.5C1488.9,506.9 1489.6,467.8 1490.3,445.3C1491.0,422.8 1491.8,397.6 1492.6,379.5C1493.3,361.5 1494.3,344.3 1495.0,332.6C1495.7,320.9 1496.4,311.4 1496.9,306.3C1497.4,301.2 1497.6,299.4 1498.0,300.6C1498.4,301.8 1498.9,304.2 1499.3,313.8C1499.8,323.4 1500.3,344.2 1500.8,360.8C1501.3,377.3 1501.8,399.1 1502.3,417.1C1502.8,435.2 1503.3,459.4 1503.8,473.5C1504.3,487.6 1504.9,498.8 1505.3,505.4C1505.8,512.0 1506.3,513.5 1506.8,514.8C1507.3,516.2 1507.9,512.1 1508.5,513.9C1509.1,515.7 1509.9,522.8 1510.6,526.1C1511.3,529.4 1512.0,531.7 1512.8,534.5C1513.7,537.4 1515.1,543.3 1516.0,543.9C1516.9,544.5 1517.6,539.9 1518.5,538.3C1519.3,536.7 1520.5,534.7 1521.3,534.0C1522.1,533.2 1523.0,532.6 1523.7,533.6C1524.5,534.6 1525.0,540.8 1526.0,540.2C1527.0,539.5 1528.6,530.7 1529.8,529.5C1531.0,528.3 1532.2,531.1 1533.5,532.7C1534.9,534.2 1536.8,537.5 1538.2,539.2C1539.7,541.0 1541.4,544.6 1542.5,543.4C1543.6,542.2 1544.4,536.0 1545.2,531.7C1546.0,527.5 1546.9,518.8 1547.6,516.7C1548.3,514.6 1548.8,515.6 1549.5,518.6C1550.2,521.6 1551.2,531.9 1551.9,535.5C1552.7,539.1 1553.4,541.4 1554.2,541.1C1555.0,540.8 1555.5,535.7 1557.0,533.6C1558.5,531.5 1561.9,530.5 1563.6,528.0C1565.3,525.4 1566.7,518.7 1567.7,517.6C1568.8,516.6 1569.4,520.9 1570.2,521.4C1570.9,521.8 1571.8,519.4 1572.6,520.5C1573.3,521.5 1573.9,525.1 1574.8,528.0C1575.8,530.8 1577.3,536.0 1578.6,538.3C1579.9,540.6 1581.4,543.5 1582.7,542.6C1584.1,541.7 1585.6,535.2 1587.1,532.7C1588.5,530.2 1590.4,527.8 1591.8,527.0C1593.1,526.3 1594.4,526.1 1595.5,528.0C1596.7,529.9 1597.8,539.8 1598.9,538.9C1600.0,538.0 1601.7,523.2 1602.7,522.3C1603.6,521.5 1604.1,531.1 1604.9,533.6C1605.7,536.2 1606.7,539.8 1607.7,538.3C1608.8,536.8 1610.4,526.6 1611.5,524.2C1612.5,521.8 1613.5,523.9 1614.3,523.3C1615.1,522.7 1615.8,519.0 1616.6,520.5C1617.3,522.0 1618.2,533.3 1619.0,532.7C1619.8,532.1 1621.1,520.5 1621.8,516.7C1622.6,512.9 1623.1,510.1 1623.7,509.2C1624.3,508.2 1625.0,510.8 1625.6,510.7C1626.2,510.5 1626.7,506.8 1627.5,508.2C1628.2,509.7 1629.4,517.1 1630.3,519.5C1631.2,521.9 1632.2,521.6 1633.1,523.3C1634.0,524.9 1635.0,530.4 1635.9,529.8C1636.8,529.2 1638.0,521.4 1638.7,519.5C1639.4,517.7 1640.0,518.4 1640.2,518.2L1640.2,555.0L1354.7,555.0Z" fill="#cfcfcf" stroke="none" clip-path="url(#cp-r2R)"/>
<path d="M1483.7,550.0L1485.0,548.3L1486.7,549.8" fill="none" stroke="#6a6ad2" stroke-width="0.85"/>
<path d="M1486.7,528.9L1486.7,549.8L1516.6,550.1" fill="none" stroke="#6a6ad2" stroke-width="0.85"/>
<circle cx="1516.6" cy="550.1" r="2.0" fill="none" stroke="#6a6ad2" stroke-width="0.85"/>
<path d="M1354.7,533.6C1355.1,532.3 1356.4,525.8 1357.3,525.2C1358.2,524.6 1359.2,530.4 1360.3,529.8C1361.4,529.3 1362.8,521.1 1364.0,522.0C1365.3,522.8 1366.9,534.3 1368.2,535.1C1369.5,535.9 1371.0,525.8 1372.3,527.0C1373.7,528.2 1375.3,541.8 1376.6,542.6C1377.9,543.4 1379.1,534.0 1380.4,532.1C1381.7,530.2 1383.1,529.7 1384.7,530.8C1386.4,531.9 1389.2,538.4 1390.7,538.9C1392.3,539.3 1393.4,536.1 1394.5,533.6C1395.5,531.1 1396.4,523.3 1397.3,523.3C1398.2,523.3 1399.1,534.7 1400.1,533.6C1401.2,532.6 1402.8,519.9 1403.9,516.7C1404.9,513.5 1405.7,511.2 1406.7,513.9C1407.7,516.6 1408.8,529.4 1409.9,533.6C1411.0,537.8 1412.2,539.6 1413.6,540.2C1415.1,540.8 1417.5,538.6 1418.9,537.4C1420.4,536.2 1421.3,531.4 1422.7,532.7C1424.0,534.0 1426.2,547.4 1427.4,545.4C1428.6,543.5 1429.4,527.5 1430.2,520.5C1431.0,513.4 1431.8,504.1 1432.4,501.1C1433.0,498.1 1433.2,497.4 1433.9,501.7C1434.6,506.0 1435.7,521.5 1436.8,528.0C1437.8,534.4 1439.5,541.8 1440.5,542.1C1441.5,542.4 1442.2,542.3 1443.0,529.8C1443.7,517.4 1444.6,481.2 1445.2,464.1C1445.9,447.0 1446.5,430.0 1447.1,422.8C1447.6,415.5 1448.1,417.4 1448.6,418.6C1449.1,419.8 1449.9,421.5 1450.5,430.3C1451.1,439.1 1451.7,462.7 1452.4,473.5C1453.0,484.3 1453.8,496.8 1454.6,497.9C1455.4,499.1 1456.8,482.7 1457.4,480.6C1458.1,478.5 1458.2,479.0 1458.7,484.8C1459.3,490.5 1460.0,509.5 1460.6,516.7C1461.2,523.9 1461.7,529.2 1462.5,529.5C1463.3,529.8 1464.6,522.7 1465.5,518.6C1466.4,514.4 1467.4,513.8 1468.1,503.5C1468.9,493.3 1469.4,471.5 1470.0,454.7C1470.6,437.9 1471.3,411.0 1471.9,398.3C1472.5,385.7 1473.2,379.7 1473.8,375.8C1474.3,371.9 1474.9,373.7 1475.3,373.9C1475.7,374.1 1475.8,379.4 1476.4,377.1C1477.0,374.8 1478.4,360.9 1479.0,359.8C1479.7,358.7 1480.1,362.5 1480.5,370.2C1481.0,377.8 1481.5,391.2 1482.0,407.7C1482.5,424.3 1483.2,456.0 1483.7,473.5C1484.3,490.9 1485.1,507.7 1485.6,516.7C1486.1,525.7 1486.7,529.2 1487.1,529.8C1487.6,530.4 1487.9,534.0 1488.4,520.5C1488.9,506.9 1489.6,467.8 1490.3,445.3C1491.0,422.8 1491.8,397.6 1492.6,379.5C1493.3,361.5 1494.3,344.3 1495.0,332.6C1495.7,320.9 1496.4,311.4 1496.9,306.3C1497.4,301.2 1497.6,299.4 1498.0,300.6C1498.4,301.8 1498.9,304.2 1499.3,313.8C1499.8,323.4 1500.3,344.2 1500.8,360.8C1501.3,377.3 1501.8,399.1 1502.3,417.1C1502.8,435.2 1503.3,459.4 1503.8,473.5C1504.3,487.6 1504.9,498.8 1505.3,505.4C1505.8,512.0 1506.3,513.5 1506.8,514.8C1507.3,516.2 1507.9,512.1 1508.5,513.9C1509.1,515.7 1509.9,522.8 1510.6,526.1C1511.3,529.4 1512.0,531.7 1512.8,534.5C1513.7,537.4 1515.1,543.3 1516.0,543.9C1516.9,544.5 1517.6,539.9 1518.5,538.3C1519.3,536.7 1520.5,534.7 1521.3,534.0C1522.1,533.2 1523.0,532.6 1523.7,533.6C1524.5,534.6 1525.0,540.8 1526.0,540.2C1527.0,539.5 1528.6,530.7 1529.8,529.5C1531.0,528.3 1532.2,531.1 1533.5,532.7C1534.9,534.2 1536.8,537.5 1538.2,539.2C1539.7,541.0 1541.4,544.6 1542.5,543.4C1543.6,542.2 1544.4,536.0 1545.2,531.7C1546.0,527.5 1546.9,518.8 1547.6,516.7C1548.3,514.6 1548.8,515.6 1549.5,518.6C1550.2,521.6 1551.2,531.9 1551.9,535.5C1552.7,539.1 1553.4,541.4 1554.2,541.1C1555.0,540.8 1555.5,535.7 1557.0,533.6C1558.5,531.5 1561.9,530.5 1563.6,528.0C1565.3,525.4 1566.7,518.7 1567.7,517.6C1568.8,516.6 1569.4,520.9 1570.2,521.4C1570.9,521.8 1571.8,519.4 1572.6,520.5C1573.3,521.5 1573.9,525.1 1574.8,528.0C1575.8,530.8 1577.3,536.0 1578.6,538.3C1579.9,540.6 1581.4,543.5 1582.7,542.6C1584.1,541.7 1585.6,535.2 1587.1,532.7C1588.5,530.2 1590.4,527.8 1591.8,527.0C1593.1,526.3 1594.4,526.1 1595.5,528.0C1596.7,529.9 1597.8,539.8 1598.9,538.9C1600.0,538.0 1601.7,523.2 1602.7,522.3C1603.6,521.5 1604.1,531.1 1604.9,533.6C1605.7,536.2 1606.7,539.8 1607.7,538.3C1608.8,536.8 1610.4,526.6 1611.5,524.2C1612.5,521.8 1613.5,523.9 1614.3,523.3C1615.1,522.7 1615.8,519.0 1616.6,520.5C1617.3,522.0 1618.2,533.3 1619.0,532.7C1619.8,532.1 1621.1,520.5 1621.8,516.7C1622.6,512.9 1623.1,510.1 1623.7,509.2C1624.3,508.2 1625.0,510.8 1625.6,510.7C1626.2,510.5 1626.7,506.8 1627.5,508.2C1628.2,509.7 1629.4,517.1 1630.3,519.5C1631.2,521.9 1632.2,521.6 1633.1,523.3C1634.0,524.9 1635.0,530.4 1635.9,529.8C1636.8,529.2 1638.0,521.4 1638.7,519.5C1639.4,517.7 1640.0,518.4 1640.2,518.2" fill="none" stroke="#3a3a3a" stroke-width="0.95" stroke-linejoin="round"/>
<path d="M1354.60,301.40V553.60M1348.10,553.00H1641.20" fill="none" stroke="#0c0c0c" stroke-width="1.45"/>
<path d="M1348.10,553.00H1354.60M1350.60,547.98H1354.60M1350.60,542.96H1354.60M1350.60,537.94H1354.60M1350.60,532.92H1354.60M1349.40,527.90H1354.60M1350.60,522.88H1354.60M1350.60,517.86H1354.60M1350.60,512.84H1354.60M1350.60,507.82H1354.60M1348.10,502.80H1354.60M1350.60,497.78H1354.60M1350.60,492.76H1354.60M1350.60,487.74H1354.60M1350.60,482.72H1354.60M1349.40,477.70H1354.60M1350.60,472.68H1354.60M1350.60,467.66H1354.60M1350.60,462.64H1354.60M1350.60,457.62H1354.60M1348.10,452.60H1354.60M1350.60,447.58H1354.60M1350.60,442.56H1354.60M1350.60,437.54H1354.60M1350.60,432.52H1354.60M1349.40,427.50H1354.60M1350.60,422.48H1354.60M1350.60,417.46H1354.60M1350.60,412.44H1354.60M1350.60,407.42H1354.60M1348.10,402.40H1354.60M1350.60,397.38H1354.60M1350.60,392.36H1354.60M1350.60,387.34H1354.60M1350.60,382.32H1354.60M1349.40,377.30H1354.60M1350.60,372.28H1354.60M1350.60,367.26H1354.60M1350.60,362.24H1354.60M1350.60,357.22H1354.60M1348.10,352.20H1354.60M1350.60,347.18H1354.60M1350.60,342.16H1354.60M1350.60,337.14H1354.60M1350.60,332.12H1354.60M1349.40,327.10H1354.60M1350.60,322.08H1354.60M1350.60,317.06H1354.60M1350.60,312.04H1354.60M1350.60,307.02H1354.60M1348.10,302.00H1354.60M1356.72,553.00V555.60M1359.59,553.00V555.60M1362.45,553.00V555.60M1365.32,553.00V555.60M1368.19,553.00V557.60M1371.06,553.00V555.60M1373.92,553.00V555.60M1376.79,553.00V555.60M1379.66,553.00V555.60M1382.53,553.00V557.60M1385.39,553.00V555.60M1388.26,553.00V555.60M1391.13,553.00V555.60M1394.00,553.00V555.60M1396.86,553.00V557.60M1399.73,553.00V555.60M1402.60,553.00V555.60M1405.47,553.00V555.60M1408.33,553.00V555.60M1411.20,553.00V559.90M1414.07,553.00V555.60M1416.93,553.00V555.60M1419.80,553.00V555.60M1422.67,553.00V555.60M1425.54,553.00V557.60M1428.40,553.00V555.60M1431.27,553.00V555.60M1434.14,553.00V555.60M1437.01,553.00V555.60M1439.88,553.00V557.60M1442.74,553.00V555.60M1445.61,553.00V555.60M1448.48,553.00V555.60M1451.35,553.00V555.60M1454.21,553.00V557.60M1457.08,553.00V555.60M1459.95,553.00V555.60M1462.82,553.00V555.60M1465.68,553.00V555.60M1468.55,553.00V559.90M1471.42,553.00V555.60M1474.29,553.00V555.60M1477.15,553.00V555.60M1480.02,553.00V555.60M1482.89,553.00V557.60M1485.76,553.00V555.60M1488.62,553.00V555.60M1491.49,553.00V555.60M1494.36,553.00V555.60M1497.22,553.00V557.60M1500.09,553.00V555.60M1502.96,553.00V555.60M1505.83,553.00V555.60M1508.69,553.00V555.60M1511.56,553.00V557.60M1514.43,553.00V555.60M1517.30,553.00V555.60M1520.16,553.00V555.60M1523.03,553.00V555.60M1525.90,553.00V559.90M1528.77,553.00V555.60M1531.63,553.00V555.60M1534.50,553.00V555.60M1537.37,553.00V555.60M1540.24,553.00V557.60M1543.11,553.00V555.60M1545.97,553.00V555.60M1548.84,553.00V555.60M1551.71,553.00V555.60M1554.58,553.00V557.60M1557.44,553.00V555.60M1560.31,553.00V555.60M1563.18,553.00V555.60M1566.05,553.00V555.60M1568.91,553.00V557.60M1571.78,553.00V555.60M1574.65,553.00V555.60M1577.51,553.00V555.60M1580.38,553.00V555.60M1583.25,553.00V559.90M1586.12,553.00V555.60M1588.98,553.00V555.60M1591.85,553.00V555.60M1594.72,553.00V555.60M1597.59,553.00V557.60M1600.45,553.00V555.60M1603.32,553.00V555.60M1606.19,553.00V555.60M1609.06,553.00V555.60M1611.92,553.00V557.60M1614.79,553.00V555.60M1617.66,553.00V555.60M1620.53,553.00V555.60M1623.39,553.00V555.60M1626.26,553.00V557.60M1629.13,553.00V555.60M1632.00,553.00V555.60M1634.87,553.00V555.60M1637.73,553.00V555.60M1640.60,553.00V559.90" fill="none" stroke="#0c0c0c" stroke-width="1.15"/>
<text transform="translate(1347.2,555.2) scale(1,1.14)" font-size="12" letter-spacing="0.45" text-anchor="end" fill="#222">0</text>
<text transform="translate(1347.2,505.3) scale(1,1.14)" font-size="12" letter-spacing="0.45" text-anchor="end" fill="#222">20</text>
<text transform="translate(1347.2,455.5) scale(1,1.14)" font-size="12" letter-spacing="0.45" text-anchor="end" fill="#222">40</text>
<text transform="translate(1347.2,405.6) scale(1,1.14)" font-size="12" letter-spacing="0.45" text-anchor="end" fill="#222">60</text>
<text transform="translate(1347.2,355.8) scale(1,1.14)" font-size="12" letter-spacing="0.45" text-anchor="end" fill="#222">80</text>
<text transform="translate(1347.2,305.9) scale(1,1.14)" font-size="12" letter-spacing="0.45" text-anchor="end" fill="#222">100</text>
<text transform="translate(1410.6,573.0) scale(1,1.17)" font-size="12.3" text-anchor="middle" fill="#222">2</text>
<text transform="translate(1468.0,573.0) scale(1,1.17)" font-size="12.3" text-anchor="middle" fill="#222">4</text>
<text transform="translate(1525.3,573.0) scale(1,1.17)" font-size="12.3" text-anchor="middle" fill="#222">6</text>
<text transform="translate(1582.7,573.0) scale(1,1.17)" font-size="12.3" text-anchor="middle" fill="#222">8</text>
<text transform="translate(1638.8,573.0) scale(1,1.17)" font-size="12.3" text-anchor="middle" fill="#222">10</text>
<clipPath id="cp-r3L"><rect x="1159.7" y="576.1" width="36.3" height="246.4"/></clipPath>
<path d="M1020.3,818.2C1021.0,817.9 1023.3,815.8 1024.7,816.7C1026.0,817.6 1027.2,822.1 1028.8,823.8C1030.4,825.6 1032.8,828.0 1034.4,827.6C1036.1,827.1 1037.8,822.7 1039.1,821.0C1040.5,819.3 1041.5,816.9 1042.9,817.2C1044.2,817.5 1045.6,821.1 1047.6,822.9C1049.5,824.7 1053.2,828.1 1055.1,828.5C1057.0,829.0 1057.9,827.0 1059.2,825.7C1060.6,824.4 1062.1,821.3 1063.5,820.6C1065.0,819.9 1066.7,821.5 1068.2,821.4C1069.7,821.2 1071.3,819.1 1072.9,819.7C1074.6,820.2 1076.8,824.0 1078.6,824.8C1080.4,825.5 1082.4,824.3 1084.2,824.2C1086.0,824.1 1088.2,826.4 1089.8,824.4C1091.5,822.4 1093.0,816.1 1094.5,811.6C1096.0,807.2 1097.9,801.1 1099.2,796.6C1100.6,792.1 1102.1,786.0 1103.0,783.4C1103.9,780.9 1104.3,780.5 1104.9,780.6C1105.5,780.8 1106.0,781.5 1106.8,784.4C1107.5,787.2 1108.5,793.2 1109.6,798.5C1110.6,803.7 1112.0,813.2 1113.3,817.2C1114.7,821.3 1116.7,822.6 1118.0,823.8C1119.4,825.1 1120.3,825.3 1121.8,825.1C1123.3,824.9 1125.8,823.2 1127.4,822.5C1129.1,821.8 1130.9,823.9 1132.1,821.0C1133.3,818.1 1134.1,813.7 1134.9,804.1C1135.8,794.5 1136.6,776.8 1137.4,760.9C1138.1,744.9 1138.9,722.6 1139.6,704.5C1140.4,686.5 1141.1,664.7 1141.9,648.2C1142.6,631.6 1143.6,611.9 1144.3,601.2C1145.0,590.5 1145.7,584.8 1146.2,581.5C1146.7,578.1 1147.1,579.4 1147.5,580.1C1148.0,580.9 1148.4,579.8 1149.0,586.2C1149.6,592.5 1150.5,607.0 1151.3,620.0C1152.0,632.9 1152.9,651.9 1153.7,666.9C1154.5,682.0 1155.4,703.1 1156.2,713.9C1156.9,724.7 1157.9,730.6 1158.4,734.6C1159.0,738.5 1159.2,740.5 1159.7,738.7C1160.3,736.9 1161.1,733.3 1161.8,723.3C1162.6,713.3 1163.5,691.4 1164.4,676.3C1165.3,661.3 1166.6,640.8 1167.4,629.4C1168.3,617.9 1169.0,609.9 1169.7,604.9C1170.4,600.0 1171.0,598.4 1171.6,598.4C1172.2,598.4 1172.8,599.1 1173.5,604.9C1174.1,610.8 1175.0,622.1 1175.7,635.0C1176.5,647.9 1177.4,671.6 1178.2,685.7C1178.9,699.9 1179.8,712.8 1180.6,723.3C1181.3,733.8 1181.9,744.0 1182.8,751.5C1183.8,759.0 1185.6,764.3 1186.6,770.3C1187.7,776.3 1188.6,783.0 1189.4,789.1C1190.3,795.1 1191.1,803.0 1191.9,807.8C1192.6,812.7 1193.2,816.7 1194.1,819.1C1195.1,821.5 1196.7,822.1 1197.9,822.9C1199.1,823.6 1200.4,824.7 1201.6,823.8C1202.8,822.9 1204.2,819.8 1205.4,817.2C1206.6,814.7 1208.0,809.9 1209.2,807.8C1210.3,805.8 1211.5,804.3 1212.5,804.5C1213.6,804.6 1214.6,807.0 1215.7,808.8C1216.8,810.5 1218.1,813.8 1219.5,815.4C1220.8,817.0 1223.0,818.1 1224.2,818.7C1225.4,819.4 1226.1,820.6 1227.0,819.5C1227.9,818.4 1228.9,814.5 1229.8,811.6C1230.7,808.7 1231.9,803.4 1232.6,801.3C1233.4,799.2 1233.9,798.3 1234.5,798.5C1235.1,798.6 1235.6,800.1 1236.4,802.2C1237.1,804.3 1238.2,808.8 1239.2,811.6C1240.3,814.5 1241.6,819.5 1243.0,820.1C1244.3,820.7 1246.2,816.5 1247.7,815.4C1249.2,814.2 1250.9,812.5 1252.4,812.9C1253.9,813.4 1255.6,816.4 1257.1,818.2C1258.6,819.9 1260.1,823.4 1261.8,823.8C1263.4,824.3 1265.7,822.0 1267.4,821.0C1269.0,820.0 1270.7,817.5 1272.1,817.8C1273.4,818.1 1274.6,821.3 1275.8,822.9C1277.1,824.4 1278.3,827.4 1279.6,827.6C1281.0,827.7 1282.8,825.5 1284.3,823.8C1285.8,822.2 1287.6,818.7 1289.0,817.2C1290.4,815.7 1291.4,814.3 1292.8,814.4C1294.1,814.5 1296.0,818.1 1297.5,817.8C1299.0,817.5 1300.8,814.5 1302.2,812.5C1303.5,810.6 1305.0,806.6 1305.9,805.4C1306.8,804.2 1307.2,804.5 1307.8,805.0C1308.4,805.6 1309.4,808.2 1309.7,808.8L1309.7,827.5L1020.3,827.5Z" fill="#cfcfcf" stroke="none" clip-path="url(#cp-r3L)"/>
<path d="M1159.7,738.7L1159.7,822.5L1196.0,821.9" fill="none" stroke="#6a6ad2" stroke-width="0.85"/>
<circle cx="1159.4" cy="822.5" r="2.0" fill="none" stroke="#6a6ad2" stroke-width="0.85"/>
<circle cx="1196.0" cy="821.9" r="2.0" fill="none" stroke="#6a6ad2" stroke-width="0.85"/>
<path d="M1020.3,818.2C1021.0,817.9 1023.3,815.8 1024.7,816.7C1026.0,817.6 1027.2,822.1 1028.8,823.8C1030.4,825.6 1032.8,828.0 1034.4,827.6C1036.1,827.1 1037.8,822.7 1039.1,821.0C1040.5,819.3 1041.5,816.9 1042.9,817.2C1044.2,817.5 1045.6,821.1 1047.6,822.9C1049.5,824.7 1053.2,828.1 1055.1,828.5C1057.0,829.0 1057.9,827.0 1059.2,825.7C1060.6,824.4 1062.1,821.3 1063.5,820.6C1065.0,819.9 1066.7,821.5 1068.2,821.4C1069.7,821.2 1071.3,819.1 1072.9,819.7C1074.6,820.2 1076.8,824.0 1078.6,824.8C1080.4,825.5 1082.4,824.3 1084.2,824.2C1086.0,824.1 1088.2,826.4 1089.8,824.4C1091.5,822.4 1093.0,816.1 1094.5,811.6C1096.0,807.2 1097.9,801.1 1099.2,796.6C1100.6,792.1 1102.1,786.0 1103.0,783.4C1103.9,780.9 1104.3,780.5 1104.9,780.6C1105.5,780.8 1106.0,781.5 1106.8,784.4C1107.5,787.2 1108.5,793.2 1109.6,798.5C1110.6,803.7 1112.0,813.2 1113.3,817.2C1114.7,821.3 1116.7,822.6 1118.0,823.8C1119.4,825.1 1120.3,825.3 1121.8,825.1C1123.3,824.9 1125.8,823.2 1127.4,822.5C1129.1,821.8 1130.9,823.9 1132.1,821.0C1133.3,818.1 1134.1,813.7 1134.9,804.1C1135.8,794.5 1136.6,776.8 1137.4,760.9C1138.1,744.9 1138.9,722.6 1139.6,704.5C1140.4,686.5 1141.1,664.7 1141.9,648.2C1142.6,631.6 1143.6,611.9 1144.3,601.2C1145.0,590.5 1145.7,584.8 1146.2,581.5C1146.7,578.1 1147.1,579.4 1147.5,580.1C1148.0,580.9 1148.4,579.8 1149.0,586.2C1149.6,592.5 1150.5,607.0 1151.3,620.0C1152.0,632.9 1152.9,651.9 1153.7,666.9C1154.5,682.0 1155.4,703.1 1156.2,713.9C1156.9,724.7 1157.9,730.6 1158.4,734.6C1159.0,738.5 1159.2,740.5 1159.7,738.7C1160.3,736.9 1161.1,733.3 1161.8,723.3C1162.6,713.3 1163.5,691.4 1164.4,676.3C1165.3,661.3 1166.6,640.8 1167.4,629.4C1168.3,617.9 1169.0,609.9 1169.7,604.9C1170.4,600.0 1171.0,598.4 1171.6,598.4C1172.2,598.4 1172.8,599.1 1173.5,604.9C1174.1,610.8 1175.0,622.1 1175.7,635.0C1176.5,647.9 1177.4,671.6 1178.2,685.7C1178.9,699.9 1179.8,712.8 1180.6,723.3C1181.3,733.8 1181.9,744.0 1182.8,751.5C1183.8,759.0 1185.6,764.3 1186.6,770.3C1187.7,776.3 1188.6,783.0 1189.4,789.1C1190.3,795.1 1191.1,803.0 1191.9,807.8C1192.6,812.7 1193.2,816.7 1194.1,819.1C1195.1,821.5 1196.7,822.1 1197.9,822.9C1199.1,823.6 1200.4,824.7 1201.6,823.8C1202.8,822.9 1204.2,819.8 1205.4,817.2C1206.6,814.7 1208.0,809.9 1209.2,807.8C1210.3,805.8 1211.5,804.3 1212.5,804.5C1213.6,804.6 1214.6,807.0 1215.7,808.8C1216.8,810.5 1218.1,813.8 1219.5,815.4C1220.8,817.0 1223.0,818.1 1224.2,818.7C1225.4,819.4 1226.1,820.6 1227.0,819.5C1227.9,818.4 1228.9,814.5 1229.8,811.6C1230.7,808.7 1231.9,803.4 1232.6,801.3C1233.4,799.2 1233.9,798.3 1234.5,798.5C1235.1,798.6 1235.6,800.1 1236.4,802.2C1237.1,804.3 1238.2,808.8 1239.2,811.6C1240.3,814.5 1241.6,819.5 1243.0,820.1C1244.3,820.7 1246.2,816.5 1247.7,815.4C1249.2,814.2 1250.9,812.5 1252.4,812.9C1253.9,813.4 1255.6,816.4 1257.1,818.2C1258.6,819.9 1260.1,823.4 1261.8,823.8C1263.4,824.3 1265.7,822.0 1267.4,821.0C1269.0,820.0 1270.7,817.5 1272.1,817.8C1273.4,818.1 1274.6,821.3 1275.8,822.9C1277.1,824.4 1278.3,827.4 1279.6,827.6C1281.0,827.7 1282.8,825.5 1284.3,823.8C1285.8,822.2 1287.6,818.7 1289.0,817.2C1290.4,815.7 1291.4,814.3 1292.8,814.4C1294.1,814.5 1296.0,818.1 1297.5,817.8C1299.0,817.5 1300.8,814.5 1302.2,812.5C1303.5,810.6 1305.0,806.6 1305.9,805.4C1306.8,804.2 1307.2,804.5 1307.8,805.0C1308.4,805.6 1309.4,808.2 1309.7,808.8" fill="none" stroke="#3a3a3a" stroke-width="0.95" stroke-linejoin="round"/>
<path d="M1020.40,579.50V830.00M1013.90,829.40H1309.60" fill="none" stroke="#0c0c0c" stroke-width="1.45"/>
<path d="M1013.90,829.40H1020.40M1016.40,824.41H1020.40M1016.40,819.43H1020.40M1016.40,814.44H1020.40M1016.40,809.46H1020.40M1015.20,804.47H1020.40M1016.40,799.48H1020.40M1016.40,794.50H1020.40M1016.40,789.51H1020.40M1016.40,784.53H1020.40M1013.90,779.54H1020.40M1016.40,774.55H1020.40M1016.40,769.57H1020.40M1016.40,764.58H1020.40M1016.40,759.60H1020.40M1015.20,754.61H1020.40M1016.40,749.62H1020.40M1016.40,744.64H1020.40M1016.40,739.65H1020.40M1016.40,734.67H1020.40M1013.90,729.68H1020.40M1016.40,724.69H1020.40M1016.40,719.71H1020.40M1016.40,714.72H1020.40M1016.40,709.74H1020.40M1015.20,704.75H1020.40M1016.40,699.76H1020.40M1016.40,694.78H1020.40M1016.40,689.79H1020.40M1016.40,684.81H1020.40M1013.90,679.82H1020.40M1016.40,674.83H1020.40M1016.40,669.85H1020.40M1016.40,664.86H1020.40M1016.40,659.88H1020.40M1015.20,654.89H1020.40M1016.40,649.90H1020.40M1016.40,644.92H1020.40M1016.40,639.93H1020.40M1016.40,634.95H1020.40M1013.90,629.96H1020.40M1016.40,624.97H1020.40M1016.40,619.99H1020.40M1016.40,615.00H1020.40M1016.40,610.02H1020.40M1015.20,605.03H1020.40M1016.40,600.04H1020.40M1016.40,595.06H1020.40M1016.40,590.07H1020.40M1016.40,585.09H1020.40M1013.90,580.10H1020.40M1021.61,829.40V833.80M1029.17,829.40V833.80M1036.74,829.40V833.80M1044.30,829.40V835.80M1051.86,829.40V833.80M1059.43,829.40V833.80M1066.99,829.40V833.80M1074.55,829.40V833.80M1082.11,829.40V835.80M1089.68,829.40V833.80M1097.24,829.40V833.80M1104.80,829.40V833.80M1112.37,829.40V833.80M1119.93,829.40V835.80M1127.49,829.40V833.80M1135.05,829.40V833.80M1142.62,829.40V833.80M1150.18,829.40V833.80M1157.74,829.40V835.80M1165.31,829.40V833.80M1172.87,829.40V833.80M1180.43,829.40V833.80M1187.99,829.40V833.80M1195.56,829.40V835.80M1203.12,829.40V833.80M1210.68,829.40V833.80M1218.25,829.40V833.80M1225.81,829.40V833.80M1233.37,829.40V835.80M1240.93,829.40V833.80M1248.50,829.40V833.80M1256.06,829.40V833.80M1263.62,829.40V833.80M1271.19,829.40V835.80M1278.75,829.40V833.80M1286.31,829.40V833.80M1293.87,829.40V833.80M1301.44,829.40V833.80M1309.00,829.40V835.80" fill="none" stroke="#0c0c0c" stroke-width="1.15"/>
<text transform="translate(1012.1,833.9) scale(1,1.14)" font-size="12" letter-spacing="0.45" text-anchor="end" fill="#222">0</text>
<text transform="translate(1012.1,784.0) scale(1,1.14)" font-size="12" letter-spacing="0.45" text-anchor="end" fill="#222">20</text>
<text transform="translate(1012.1,734.2) scale(1,1.14)" font-size="12" letter-spacing="0.45" text-anchor="end" fill="#222">40</text>
<text transform="translate(1012.1,684.3) scale(1,1.14)" font-size="12" letter-spacing="0.45" text-anchor="end" fill="#222">60</text>
<text transform="translate(1012.1,634.5) scale(1,1.14)" font-size="12" letter-spacing="0.45" text-anchor="end" fill="#222">80</text>
<text transform="translate(1012.1,584.6) scale(1,1.14)" font-size="12" letter-spacing="0.45" text-anchor="end" fill="#222">100</text>
<text x="1044.6" y="850.3" font-size="13" text-anchor="middle" fill="#222" >3</text>
<text x="1082.4" y="850.3" font-size="13" text-anchor="middle" fill="#222" >4</text>
<text x="1120.2" y="850.3" font-size="13" text-anchor="middle" fill="#222" >5</text>
<text x="1158.0" y="850.3" font-size="13" text-anchor="middle" fill="#222" >6</text>
<text x="1195.9" y="850.3" font-size="13" text-anchor="middle" fill="#222" >7</text>
<text x="1233.7" y="850.3" font-size="13" text-anchor="middle" fill="#222" >8</text>
<text x="1271.5" y="850.3" font-size="13" text-anchor="middle" fill="#222" >9</text>
<text x="1307.2" y="850.3" font-size="13" text-anchor="middle" fill="#222" >10</text>
<clipPath id="cp-r3R"><rect x="1487.5" y="577.8" width="18.8" height="251.1"/></clipPath>
<path d="M1354.7,822.9C1355.1,823.0 1356.5,825.3 1357.3,823.8C1358.1,822.3 1358.9,816.9 1359.7,813.5C1360.6,810.1 1361.7,802.3 1362.5,802.6C1363.4,802.9 1364.0,812.0 1364.8,815.4C1365.6,818.8 1367.0,824.4 1367.8,823.8C1368.6,823.2 1369.4,814.0 1370.1,811.6C1370.7,809.2 1371.3,807.9 1371.9,808.8C1372.6,809.7 1373.3,816.1 1374.2,817.2C1375.1,818.4 1376.5,814.7 1377.6,815.7C1378.7,816.8 1379.9,822.2 1381.0,823.8C1382.0,825.4 1383.2,825.6 1384.2,825.7C1385.1,825.8 1386.0,824.5 1387.0,824.4C1388.0,824.3 1389.3,826.3 1390.4,825.1C1391.4,824.0 1392.6,818.7 1393.5,817.2C1394.5,815.7 1395.5,815.4 1396.4,815.7C1397.3,816.0 1398.1,817.7 1399.2,819.1C1400.2,820.5 1401.7,824.1 1402.9,824.4C1404.1,824.6 1405.6,821.8 1406.7,820.6C1407.8,819.5 1409.0,819.9 1409.9,817.2C1410.8,814.6 1411.6,807.2 1412.3,804.1C1413.1,801.0 1413.8,797.2 1414.6,798.1C1415.3,799.0 1416.2,805.8 1417.0,809.7C1417.9,813.7 1418.9,820.6 1419.8,822.9C1420.8,825.1 1421.6,824.4 1422.7,823.8C1423.7,823.2 1425.2,820.5 1426.4,819.1C1427.6,817.8 1429.0,815.7 1430.2,815.4C1431.4,815.1 1432.8,816.1 1433.9,817.2C1435.1,818.4 1436.3,823.8 1437.3,822.5C1438.4,821.2 1439.6,811.2 1440.5,809.4C1441.4,807.5 1442.4,813.6 1443.0,811.2C1443.6,808.9 1443.9,802.8 1444.3,794.7C1444.7,786.6 1445.1,770.8 1445.6,760.9C1446.0,751.0 1446.5,739.3 1447.1,732.7C1447.6,726.1 1448.4,723.5 1449.0,719.5C1449.6,715.6 1450.3,716.1 1450.8,708.3C1451.4,700.5 1451.8,679.4 1452.4,670.7C1452.9,662.0 1453.7,654.8 1454.2,654.2C1454.7,653.6 1455.1,658.9 1455.5,666.9C1456.0,675.0 1456.4,691.0 1456.9,704.5C1457.3,718.0 1457.8,737.1 1458.4,751.5C1458.9,765.9 1459.7,786.3 1460.2,794.7C1460.8,803.1 1461.1,801.9 1461.7,804.1C1462.3,806.3 1463.3,807.3 1464.0,808.2C1464.7,809.1 1465.2,808.0 1465.9,809.7C1466.6,811.5 1467.7,819.4 1468.3,819.1C1468.9,818.8 1469.2,818.7 1469.6,807.8C1470.1,797.0 1470.7,769.5 1471.1,751.5C1471.6,733.4 1472.2,713.2 1472.6,695.1C1473.1,677.1 1473.7,652.9 1474.1,638.8C1474.6,624.6 1475.2,614.3 1475.6,606.8C1476.1,599.3 1476.6,596.0 1477.2,591.8C1477.7,587.6 1478.5,580.5 1479.0,580.5C1479.5,580.5 1479.8,584.0 1480.2,591.8C1480.5,599.6 1480.9,614.3 1481.3,629.4C1481.6,644.4 1482.0,667.7 1482.4,685.7C1482.8,703.8 1483.2,727.1 1483.7,742.1C1484.2,757.1 1485.0,771.7 1485.6,779.7C1486.2,787.6 1486.9,790.7 1487.5,791.9C1488.0,793.1 1488.5,793.6 1489.0,787.2C1489.4,780.7 1489.8,766.2 1490.3,751.5C1490.8,736.8 1491.6,713.2 1492.2,695.1C1492.8,677.1 1493.5,654.7 1494.1,638.8C1494.7,622.8 1495.4,604.4 1495.9,595.5C1496.5,586.7 1497.0,580.9 1497.4,583.3C1497.9,585.7 1498.3,597.2 1498.8,610.6C1499.2,624.0 1499.6,647.4 1500.1,666.9C1500.5,686.5 1501.0,714.7 1501.6,732.7C1502.1,750.7 1502.9,768.2 1503.5,779.7C1504.1,791.1 1504.7,798.4 1505.3,804.1C1505.9,809.8 1506.5,813.3 1507.2,815.4C1508.0,817.4 1509.1,816.7 1510.0,816.9C1510.9,817.0 1511.9,815.5 1512.8,816.5C1513.8,817.5 1515.1,823.7 1516.0,822.9C1516.9,822.1 1517.8,815.1 1518.5,811.6C1519.2,808.1 1519.8,803.2 1520.4,801.3C1520.9,799.3 1521.4,798.0 1521.9,799.4C1522.3,800.7 1522.5,805.4 1523.2,809.7C1523.8,814.0 1524.9,824.0 1526.0,826.3C1527.1,828.5 1528.4,824.7 1529.8,823.8C1531.1,822.9 1533.1,821.7 1534.5,820.6C1535.8,819.6 1537.2,817.7 1538.2,817.2C1539.3,816.8 1540.1,817.2 1541.0,817.8C1541.9,818.4 1543.1,822.3 1543.8,821.0C1544.6,819.7 1545.1,813.9 1545.7,809.7C1546.3,805.5 1547.1,797.9 1547.6,794.7C1548.1,791.5 1548.5,789.1 1549.1,789.4C1549.7,789.7 1550.6,795.3 1551.4,796.6C1552.2,797.9 1553.2,796.4 1554.2,797.5C1555.2,798.7 1556.5,802.4 1557.6,803.7C1558.6,805.1 1559.7,804.9 1560.8,806.0C1561.8,807.0 1563.0,808.2 1564.0,810.1C1564.9,812.0 1566.1,818.2 1567.0,817.8C1567.8,817.4 1568.4,811.1 1569.2,807.8C1570.0,804.6 1571.2,798.3 1572.0,797.5C1572.9,796.8 1573.7,801.0 1574.5,803.2C1575.2,805.3 1576.0,808.6 1576.7,810.7C1577.4,812.8 1578.1,816.5 1579.0,816.3C1579.9,816.1 1581.4,810.7 1582.4,809.4C1583.4,808.0 1584.3,808.9 1585.2,807.8C1586.1,806.8 1587.2,803.5 1588.0,802.6C1588.8,801.6 1589.3,801.1 1589.9,801.8C1590.5,802.5 1591.2,807.1 1591.8,806.9C1592.4,806.7 1593.1,804.7 1593.6,800.3C1594.2,796.0 1594.6,785.6 1595.1,779.7C1595.7,773.7 1596.4,765.9 1597.0,763.1C1597.6,760.4 1598.4,759.7 1598.9,762.4C1599.4,765.0 1599.7,774.0 1600.2,779.7C1600.7,785.3 1601.3,795.6 1602.1,797.5C1602.8,799.4 1604.0,790.8 1604.9,791.5C1605.8,792.3 1606.8,802.3 1607.7,802.2C1608.6,802.1 1609.6,793.1 1610.5,790.9C1611.4,788.8 1612.2,789.5 1613.4,788.7C1614.5,787.9 1616.6,785.7 1617.7,785.9C1618.7,786.1 1619.2,789.1 1619.9,790.0C1620.7,790.9 1621.4,789.5 1622.2,791.3C1622.9,793.1 1623.9,801.6 1624.6,801.3C1625.3,800.9 1625.9,793.4 1626.5,789.1C1627.1,784.8 1627.7,775.8 1628.4,774.4C1629.1,773.1 1629.9,781.0 1630.8,780.6C1631.7,780.2 1633.2,772.8 1634.0,772.2C1634.8,771.6 1635.3,774.1 1635.9,776.8C1636.5,779.6 1637.1,784.1 1637.8,789.1C1638.4,794.0 1639.7,804.8 1640.0,807.8L1640.0,833.9L1354.7,833.9Z" fill="#cfcfcf" stroke="none" clip-path="url(#cp-r3R)"/>
<path d="M1487.5,791.9L1487.5,828.9L1506.3,828.9L1506.3,810.1" fill="none" stroke="#6a6ad2" stroke-width="0.85"/>
<circle cx="1486.9" cy="828.9" r="2.0" fill="none" stroke="#6a6ad2" stroke-width="0.85"/>
<circle cx="1506.6" cy="828.9" r="2.0" fill="none" stroke="#6a6ad2" stroke-width="0.85"/>
<path d="M1354.7,822.9C1355.1,823.0 1356.5,825.3 1357.3,823.8C1358.1,822.3 1358.9,816.9 1359.7,813.5C1360.6,810.1 1361.7,802.3 1362.5,802.6C1363.4,802.9 1364.0,812.0 1364.8,815.4C1365.6,818.8 1367.0,824.4 1367.8,823.8C1368.6,823.2 1369.4,814.0 1370.1,811.6C1370.7,809.2 1371.3,807.9 1371.9,808.8C1372.6,809.7 1373.3,816.1 1374.2,817.2C1375.1,818.4 1376.5,814.7 1377.6,815.7C1378.7,816.8 1379.9,822.2 1381.0,823.8C1382.0,825.4 1383.2,825.6 1384.2,825.7C1385.1,825.8 1386.0,824.5 1387.0,824.4C1388.0,824.3 1389.3,826.3 1390.4,825.1C1391.4,824.0 1392.6,818.7 1393.5,817.2C1394.5,815.7 1395.5,815.4 1396.4,815.7C1397.3,816.0 1398.1,817.7 1399.2,819.1C1400.2,820.5 1401.7,824.1 1402.9,824.4C1404.1,824.6 1405.6,821.8 1406.7,820.6C1407.8,819.5 1409.0,819.9 1409.9,817.2C1410.8,814.6 1411.6,807.2 1412.3,804.1C1413.1,801.0 1413.8,797.2 1414.6,798.1C1415.3,799.0 1416.2,805.8 1417.0,809.7C1417.9,813.7 1418.9,820.6 1419.8,822.9C1420.8,825.1 1421.6,824.4 1422.7,823.8C1423.7,823.2 1425.2,820.5 1426.4,819.1C1427.6,817.8 1429.0,815.7 1430.2,815.4C1431.4,815.1 1432.8,816.1 1433.9,817.2C1435.1,818.4 1436.3,823.8 1437.3,822.5C1438.4,821.2 1439.6,811.2 1440.5,809.4C1441.4,807.5 1442.4,813.6 1443.0,811.2C1443.6,808.9 1443.9,802.8 1444.3,794.7C1444.7,786.6 1445.1,770.8 1445.6,760.9C1446.0,751.0 1446.5,739.3 1447.1,732.7C1447.6,726.1 1448.4,723.5 1449.0,719.5C1449.6,715.6 1450.3,716.1 1450.8,708.3C1451.4,700.5 1451.8,679.4 1452.4,670.7C1452.9,662.0 1453.7,654.8 1454.2,654.2C1454.7,653.6 1455.1,658.9 1455.5,666.9C1456.0,675.0 1456.4,691.0 1456.9,704.5C1457.3,718.0 1457.8,737.1 1458.4,751.5C1458.9,765.9 1459.7,786.3 1460.2,794.7C1460.8,803.1 1461.1,801.9 1461.7,804.1C1462.3,806.3 1463.3,807.3 1464.0,808.2C1464.7,809.1 1465.2,808.0 1465.9,809.7C1466.6,811.5 1467.7,819.4 1468.3,819.1C1468.9,818.8 1469.2,818.7 1469.6,807.8C1470.1,797.0 1470.7,769.5 1471.1,751.5C1471.6,733.4 1472.2,713.2 1472.6,695.1C1473.1,677.1 1473.7,652.9 1474.1,638.8C1474.6,624.6 1475.2,614.3 1475.6,606.8C1476.1,599.3 1476.6,596.0 1477.2,591.8C1477.7,587.6 1478.5,580.5 1479.0,580.5C1479.5,580.5 1479.8,584.0 1480.2,591.8C1480.5,599.6 1480.9,614.3 1481.3,629.4C1481.6,644.4 1482.0,667.7 1482.4,685.7C1482.8,703.8 1483.2,727.1 1483.7,742.1C1484.2,757.1 1485.0,771.7 1485.6,779.7C1486.2,787.6 1486.9,790.7 1487.5,791.9C1488.0,793.1 1488.5,793.6 1489.0,787.2C1489.4,780.7 1489.8,766.2 1490.3,751.5C1490.8,736.8 1491.6,713.2 1492.2,695.1C1492.8,677.1 1493.5,654.7 1494.1,638.8C1494.7,622.8 1495.4,604.4 1495.9,595.5C1496.5,586.7 1497.0,580.9 1497.4,583.3C1497.9,585.7 1498.3,597.2 1498.8,610.6C1499.2,624.0 1499.6,647.4 1500.1,666.9C1500.5,686.5 1501.0,714.7 1501.6,732.7C1502.1,750.7 1502.9,768.2 1503.5,779.7C1504.1,791.1 1504.7,798.4 1505.3,804.1C1505.9,809.8 1506.5,813.3 1507.2,815.4C1508.0,817.4 1509.1,816.7 1510.0,816.9C1510.9,817.0 1511.9,815.5 1512.8,816.5C1513.8,817.5 1515.1,823.7 1516.0,822.9C1516.9,822.1 1517.8,815.1 1518.5,811.6C1519.2,808.1 1519.8,803.2 1520.4,801.3C1520.9,799.3 1521.4,798.0 1521.9,799.4C1522.3,800.7 1522.5,805.4 1523.2,809.7C1523.8,814.0 1524.9,824.0 1526.0,826.3C1527.1,828.5 1528.4,824.7 1529.8,823.8C1531.1,822.9 1533.1,821.7 1534.5,820.6C1535.8,819.6 1537.2,817.7 1538.2,817.2C1539.3,816.8 1540.1,817.2 1541.0,817.8C1541.9,818.4 1543.1,822.3 1543.8,821.0C1544.6,819.7 1545.1,813.9 1545.7,809.7C1546.3,805.5 1547.1,797.9 1547.6,794.7C1548.1,791.5 1548.5,789.1 1549.1,789.4C1549.7,789.7 1550.6,795.3 1551.4,796.6C1552.2,797.9 1553.2,796.4 1554.2,797.5C1555.2,798.7 1556.5,802.4 1557.6,803.7C1558.6,805.1 1559.7,804.9 1560.8,806.0C1561.8,807.0 1563.0,808.2 1564.0,810.1C1564.9,812.0 1566.1,818.2 1567.0,817.8C1567.8,817.4 1568.4,811.1 1569.2,807.8C1570.0,804.6 1571.2,798.3 1572.0,797.5C1572.9,796.8 1573.7,801.0 1574.5,803.2C1575.2,805.3 1576.0,808.6 1576.7,810.7C1577.4,812.8 1578.1,816.5 1579.0,816.3C1579.9,816.1 1581.4,810.7 1582.4,809.4C1583.4,808.0 1584.3,808.9 1585.2,807.8C1586.1,806.8 1587.2,803.5 1588.0,802.6C1588.8,801.6 1589.3,801.1 1589.9,801.8C1590.5,802.5 1591.2,807.1 1591.8,806.9C1592.4,806.7 1593.1,804.7 1593.6,800.3C1594.2,796.0 1594.6,785.6 1595.1,779.7C1595.7,773.7 1596.4,765.9 1597.0,763.1C1597.6,760.4 1598.4,759.7 1598.9,762.4C1599.4,765.0 1599.7,774.0 1600.2,779.7C1600.7,785.3 1601.3,795.6 1602.1,797.5C1602.8,799.4 1604.0,790.8 1604.9,791.5C1605.8,792.3 1606.8,802.3 1607.7,802.2C1608.6,802.1 1609.6,793.1 1610.5,790.9C1611.4,788.8 1612.2,789.5 1613.4,788.7C1614.5,787.9 1616.6,785.7 1617.7,785.9C1618.7,786.1 1619.2,789.1 1619.9,790.0C1620.7,790.9 1621.4,789.5 1622.2,791.3C1622.9,793.1 1623.9,801.6 1624.6,801.3C1625.3,800.9 1625.9,793.4 1626.5,789.1C1627.1,784.8 1627.7,775.8 1628.4,774.4C1629.1,773.1 1629.9,781.0 1630.8,780.6C1631.7,780.2 1633.2,772.8 1634.0,772.2C1634.8,771.6 1635.3,774.1 1635.9,776.8C1636.5,779.6 1637.1,784.1 1637.8,789.1C1638.4,794.0 1639.7,804.8 1640.0,807.8" fill="none" stroke="#3a3a3a" stroke-width="0.95" stroke-linejoin="round"/>
<path d="M1354.50,581.20V832.75M1348.00,832.15H1641.20" fill="none" stroke="#0c0c0c" stroke-width="1.45"/>
<path d="M1348.00,832.15H1354.50M1350.50,827.14H1354.50M1350.50,822.14H1354.50M1350.50,817.13H1354.50M1350.50,812.12H1354.50M1349.30,807.12H1354.50M1350.50,802.11H1354.50M1350.50,797.10H1354.50M1350.50,792.09H1354.50M1350.50,787.09H1354.50M1348.00,782.08H1354.50M1350.50,777.07H1354.50M1350.50,772.07H1354.50M1350.50,767.06H1354.50M1350.50,762.05H1354.50M1349.30,757.04H1354.50M1350.50,752.04H1354.50M1350.50,747.03H1354.50M1350.50,742.02H1354.50M1350.50,737.02H1354.50M1348.00,732.01H1354.50M1350.50,727.00H1354.50M1350.50,722.00H1354.50M1350.50,716.99H1354.50M1350.50,711.98H1354.50M1349.30,706.97H1354.50M1350.50,701.97H1354.50M1350.50,696.96H1354.50M1350.50,691.95H1354.50M1350.50,686.95H1354.50M1348.00,681.94H1354.50M1350.50,676.93H1354.50M1350.50,671.93H1354.50M1350.50,666.92H1354.50M1350.50,661.91H1354.50M1349.30,656.90H1354.50M1350.50,651.90H1354.50M1350.50,646.89H1354.50M1350.50,641.88H1354.50M1350.50,636.88H1354.50M1348.00,631.87H1354.50M1350.50,626.86H1354.50M1350.50,621.86H1354.50M1350.50,616.85H1354.50M1350.50,611.84H1354.50M1349.30,606.83H1354.50M1350.50,601.83H1354.50M1350.50,596.82H1354.50M1350.50,591.81H1354.50M1350.50,586.81H1354.50M1348.00,581.80H1354.50M1356.35,832.15V834.75M1359.22,832.15V834.75M1362.09,832.15V834.75M1364.96,832.15V834.75M1367.83,832.15V836.75M1370.70,832.15V834.75M1373.57,832.15V834.75M1376.45,832.15V834.75M1379.32,832.15V834.75M1382.19,832.15V836.75M1385.06,832.15V834.75M1387.93,832.15V834.75M1390.80,832.15V834.75M1393.67,832.15V834.75M1396.54,832.15V836.75M1399.42,832.15V834.75M1402.29,832.15V834.75M1405.16,832.15V834.75M1408.03,832.15V834.75M1410.90,832.15V839.05M1413.77,832.15V834.75M1416.64,832.15V834.75M1419.51,832.15V834.75M1422.38,832.15V834.75M1425.26,832.15V836.75M1428.13,832.15V834.75M1431.00,832.15V834.75M1433.87,832.15V834.75M1436.74,832.15V834.75M1439.61,832.15V836.75M1442.48,832.15V834.75M1445.36,832.15V834.75M1448.23,832.15V834.75M1451.10,832.15V834.75M1453.97,832.15V836.75M1456.84,832.15V834.75M1459.71,832.15V834.75M1462.58,832.15V834.75M1465.45,832.15V834.75M1468.33,832.15V839.05M1471.20,832.15V834.75M1474.07,832.15V834.75M1476.94,832.15V834.75M1479.81,832.15V834.75M1482.68,832.15V836.75M1485.55,832.15V834.75M1488.42,832.15V834.75M1491.30,832.15V834.75M1494.17,832.15V834.75M1497.04,832.15V836.75M1499.91,832.15V834.75M1502.78,832.15V834.75M1505.65,832.15V834.75M1508.52,832.15V834.75M1511.39,832.15V836.75M1514.27,832.15V834.75M1517.14,832.15V834.75M1520.01,832.15V834.75M1522.88,832.15V834.75M1525.75,832.15V839.05M1528.62,832.15V834.75M1531.49,832.15V834.75M1534.36,832.15V834.75M1537.23,832.15V834.75M1540.11,832.15V836.75M1542.98,832.15V834.75M1545.85,832.15V834.75M1548.72,832.15V834.75M1551.59,832.15V834.75M1554.46,832.15V836.75M1557.33,832.15V834.75M1560.20,832.15V834.75M1563.08,832.15V834.75M1565.95,832.15V834.75M1568.82,832.15V836.75M1571.69,832.15V834.75M1574.56,832.15V834.75M1577.43,832.15V834.75M1580.30,832.15V834.75M1583.17,832.15V839.05M1586.05,832.15V834.75M1588.92,832.15V834.75M1591.79,832.15V834.75M1594.66,832.15V834.75M1597.53,832.15V836.75M1600.40,832.15V834.75M1603.27,832.15V834.75M1606.14,832.15V834.75M1609.02,832.15V834.75M1611.89,832.15V836.75M1614.76,832.15V834.75M1617.63,832.15V834.75M1620.50,832.15V834.75M1623.37,832.15V834.75M1626.24,832.15V836.75M1629.11,832.15V834.75M1631.99,832.15V834.75M1634.86,832.15V834.75M1637.73,832.15V834.75M1640.60,832.15V839.05" fill="none" stroke="#0c0c0c" stroke-width="1.15"/>
<text transform="translate(1347.1,834.3) scale(1,1.14)" font-size="12" letter-spacing="0.45" text-anchor="end" fill="#222">0</text>
<text transform="translate(1347.1,784.6) scale(1,1.14)" font-size="12" letter-spacing="0.45" text-anchor="end" fill="#222">20</text>
<text transform="translate(1347.1,734.9) scale(1,1.14)" font-size="12" letter-spacing="0.45" text-anchor="end" fill="#222">40</text>
<text transform="translate(1347.1,685.2) scale(1,1.14)" font-size="12" letter-spacing="0.45" text-anchor="end" fill="#222">60</text>
<text transform="translate(1347.1,635.4) scale(1,1.14)" font-size="12" letter-spacing="0.45" text-anchor="end" fill="#222">80</text>
<text transform="translate(1347.1,585.7) scale(1,1.14)" font-size="12" letter-spacing="0.45" text-anchor="end" fill="#222">100</text>
<text transform="translate(1410.3,851.6) scale(1,1.17)" font-size="12.3" text-anchor="middle" fill="#222">2</text>
<text transform="translate(1467.7,851.6) scale(1,1.17)" font-size="12.3" text-anchor="middle" fill="#222">4</text>
<text transform="translate(1525.2,851.6) scale(1,1.17)" font-size="12.3" text-anchor="middle" fill="#222">6</text>
<text transform="translate(1582.6,851.6) scale(1,1.17)" font-size="12.3" text-anchor="middle" fill="#222">8</text>
<text transform="translate(1638.8,851.6) scale(1,1.17)" font-size="12.3" text-anchor="middle" fill="#222">10</text>
<path d="M1019.0,994.7C1019.5,994.3 1021.3,989.1 1022.2,992.4C1023.2,995.7 1024.1,1007.5 1025.0,1015.3C1025.9,1023.2 1027.0,1037.9 1027.8,1041.6C1028.7,1045.4 1029.5,1043.9 1030.3,1038.8C1031.0,1033.7 1031.7,1020.8 1032.5,1009.7C1033.4,998.6 1034.6,974.1 1035.4,969.3C1036.2,964.5 1036.9,973.2 1037.6,979.6C1038.3,986.1 1039.1,1000.5 1039.7,1009.7C1040.3,1018.9 1041.0,1032.5 1041.6,1036.9C1042.2,1041.4 1042.8,1040.8 1043.4,1037.3C1044.0,1033.9 1044.7,1021.9 1045.3,1015.3C1045.9,1008.8 1046.6,999.1 1047.2,996.2C1047.8,993.2 1048.5,994.9 1049.1,996.9C1049.7,998.9 1050.4,1006.5 1051.0,1008.8C1051.6,1011.0 1052.2,1013.5 1052.8,1011.2C1053.5,1008.9 1054.3,1001.8 1055.1,994.7C1055.9,987.5 1057.2,973.0 1057.9,966.5C1058.7,959.9 1059.1,954.3 1059.8,953.7C1060.5,953.1 1061.5,955.9 1062.2,962.7C1063.0,969.6 1063.8,984.5 1064.5,996.5C1065.2,1008.6 1066.1,1025.9 1066.7,1037.9C1067.4,1049.9 1067.9,1063.5 1068.6,1071.7C1069.3,1079.9 1070.3,1088.4 1071.1,1089.0C1071.8,1089.6 1072.8,1082.7 1073.5,1075.5C1074.3,1068.2 1075.0,1053.1 1075.8,1043.5C1076.5,1033.9 1077.3,1021.5 1078.0,1015.3C1078.8,1009.2 1079.8,1004.4 1080.5,1005.0C1081.1,1005.6 1081.7,1012.6 1082.3,1019.1C1082.9,1025.6 1083.6,1038.3 1084.2,1045.4C1084.8,1052.5 1085.4,1060.3 1086.1,1063.2C1086.8,1066.2 1087.8,1065.8 1088.5,1063.8C1089.2,1061.9 1089.9,1054.0 1090.4,1051.0C1090.9,1048.1 1091.2,1045.1 1091.7,1045.4C1092.2,1045.7 1093.0,1049.0 1093.6,1052.9C1094.2,1056.8 1094.9,1065.2 1095.5,1069.8C1096.1,1074.5 1096.8,1079.4 1097.4,1082.0C1098.0,1084.7 1098.6,1087.4 1099.2,1086.4C1099.9,1085.3 1100.8,1081.7 1101.5,1075.5C1102.2,1069.2 1102.8,1057.8 1103.4,1047.3C1104.0,1036.8 1104.7,1020.2 1105.3,1009.7C1105.8,999.2 1106.2,987.2 1106.8,981.5C1107.3,975.8 1108.2,972.5 1108.8,974.0C1109.4,975.5 1109.9,985.2 1110.5,990.9C1111.1,996.6 1111.8,1005.9 1112.4,1009.7C1113.0,1013.5 1113.7,1015.9 1114.3,1014.4C1114.9,1012.9 1115.6,1005.3 1116.2,1000.3C1116.7,995.3 1117.1,985.6 1117.7,983.4C1118.3,981.1 1119.2,982.0 1119.9,986.2C1120.6,990.4 1121.2,1002.0 1121.8,1009.7C1122.4,1017.4 1123.0,1027.9 1123.7,1034.1C1124.3,1040.4 1125.2,1046.8 1125.9,1048.8C1126.7,1050.7 1127.5,1047.5 1128.4,1046.3C1129.2,1045.2 1130.4,1042.4 1131.2,1041.6C1131.9,1040.8 1132.5,1040.5 1133.1,1041.3C1133.7,1042.0 1134.2,1043.3 1134.9,1046.3C1135.6,1049.4 1136.6,1055.8 1137.4,1060.4C1138.1,1065.1 1139.0,1071.8 1139.6,1075.5C1140.3,1079.1 1140.8,1081.2 1141.5,1083.0C1142.3,1084.7 1143.4,1086.2 1144.3,1086.4C1145.2,1086.5 1146.2,1085.8 1147.2,1083.9C1148.1,1082.0 1149.2,1077.0 1150.0,1074.5C1150.7,1072.0 1151.0,1069.9 1151.8,1068.3C1152.7,1066.7 1154.1,1067.9 1155.0,1064.6C1155.9,1061.2 1156.7,1052.7 1157.5,1047.3C1158.2,1041.8 1159.1,1034.3 1159.7,1030.4C1160.4,1026.5 1161.0,1023.8 1161.6,1022.8C1162.2,1021.9 1162.8,1021.4 1163.5,1024.7C1164.2,1028.0 1165.2,1036.9 1165.9,1043.5C1166.7,1050.1 1167.6,1059.1 1168.4,1066.1C1169.1,1073.0 1170.0,1082.1 1170.6,1086.7C1171.3,1091.4 1171.8,1093.3 1172.5,1095.2C1173.3,1097.0 1174.4,1097.9 1175.3,1098.4C1176.2,1098.8 1177.2,1098.8 1178.2,1098.0C1179.1,1097.2 1180.1,1094.8 1181.0,1093.3C1181.9,1091.8 1182.9,1088.8 1183.8,1088.6C1184.7,1088.5 1185.7,1090.8 1186.6,1092.4C1187.5,1093.9 1188.6,1097.3 1189.4,1098.4C1190.3,1099.4 1191.1,1099.9 1191.9,1098.9C1192.6,1098.0 1193.4,1096.1 1194.1,1092.4C1194.8,1088.6 1195.7,1082.7 1196.4,1075.5C1197.1,1068.2 1197.8,1057.8 1198.4,1047.3C1199.1,1036.8 1200.0,1019.6 1200.7,1009.7C1201.4,999.8 1202.0,990.3 1202.6,985.3C1203.2,980.3 1203.9,978.9 1204.5,978.3C1205.1,977.7 1205.7,981.5 1206.3,981.5C1206.9,981.5 1207.6,979.3 1208.2,978.3C1208.8,977.4 1209.5,973.8 1210.1,975.5C1210.7,977.2 1211.4,982.7 1212.0,989.0C1212.6,995.4 1213.2,1006.0 1213.8,1015.3C1214.5,1024.7 1215.4,1038.3 1216.1,1047.3C1216.8,1056.3 1217.5,1065.9 1218.2,1071.7C1218.9,1077.5 1219.6,1082.1 1220.4,1083.3C1221.2,1084.5 1222.3,1082.3 1223.2,1079.2C1224.1,1076.1 1225.2,1069.6 1226.1,1064.2C1226.9,1058.8 1227.8,1050.7 1228.5,1045.4C1229.3,1040.1 1230.0,1032.8 1230.8,1031.3C1231.5,1029.8 1232.4,1032.5 1233.0,1036.0C1233.7,1039.5 1234.2,1046.6 1234.9,1052.9C1235.6,1059.2 1236.5,1069.6 1237.3,1075.5C1238.2,1081.3 1239.1,1085.8 1240.2,1089.5C1241.2,1093.3 1242.7,1097.0 1243.9,1098.9C1245.1,1100.8 1246.5,1101.2 1247.7,1101.4C1248.9,1101.6 1250.4,1100.7 1251.4,1100.3C1252.5,1099.8 1253.4,1100.8 1254.2,1098.4C1255.1,1095.9 1255.8,1091.5 1256.5,1084.8C1257.2,1078.2 1257.7,1067.2 1258.4,1056.7C1259.0,1046.1 1259.8,1030.5 1260.4,1019.1C1261.1,1007.7 1262.0,992.2 1262.7,985.3C1263.4,978.4 1264.0,975.3 1264.6,975.9C1265.2,976.5 1265.9,982.7 1266.5,989.0C1267.1,995.3 1267.7,1005.1 1268.3,1015.3C1269.0,1025.6 1269.9,1043.3 1270.6,1052.9C1271.2,1062.5 1271.8,1069.6 1272.5,1075.5C1273.1,1081.3 1273.7,1086.5 1274.5,1089.5C1275.4,1092.6 1276.6,1092.6 1277.7,1094.2C1278.8,1095.8 1280.5,1099.2 1281.5,1099.5C1282.5,1099.8 1283.2,1099.1 1283.9,1096.1C1284.6,1093.2 1285.2,1087.4 1285.8,1081.1C1286.4,1074.8 1287.1,1063.9 1287.7,1056.7C1288.3,1049.5 1289.1,1040.5 1289.6,1036.0C1290.1,1031.5 1290.4,1028.9 1290.9,1028.5C1291.4,1028.0 1292.2,1029.6 1292.8,1033.2C1293.4,1036.8 1294.0,1045.3 1294.6,1051.0C1295.2,1056.8 1295.9,1066.4 1296.5,1069.3C1297.2,1072.1 1298.1,1072.4 1298.8,1068.9C1299.4,1065.4 1300.1,1056.7 1300.6,1047.3C1301.2,1037.8 1301.7,1023.2 1302.2,1009.7C1302.6,996.2 1303.1,977.8 1303.5,962.7C1303.9,947.7 1304.2,929.9 1304.6,915.8C1305.0,901.6 1305.6,883.0 1305.9,874.4C1306.2,865.9 1306.4,864.2 1306.5,862.2" fill="none" stroke="#3a3a3a" stroke-width="0.95" stroke-linejoin="round"/>
<path d="M1019.00,856.50V1107.00M1012.50,1106.40H1306.90" fill="none" stroke="#0c0c0c" stroke-width="1.45"/>
<path d="M1012.50,1106.40H1019.00M1015.00,1101.41H1019.00M1015.00,1096.43H1019.00M1015.00,1091.44H1019.00M1015.00,1086.46H1019.00M1013.80,1081.47H1019.00M1015.00,1076.48H1019.00M1015.00,1071.50H1019.00M1015.00,1066.51H1019.00M1015.00,1061.53H1019.00M1012.50,1056.54H1019.00M1015.00,1051.55H1019.00M1015.00,1046.57H1019.00M1015.00,1041.58H1019.00M1015.00,1036.60H1019.00M1013.80,1031.61H1019.00M1015.00,1026.62H1019.00M1015.00,1021.64H1019.00M1015.00,1016.65H1019.00M1015.00,1011.67H1019.00M1012.50,1006.68H1019.00M1015.00,1001.69H1019.00M1015.00,996.71H1019.00M1015.00,991.72H1019.00M1015.00,986.74H1019.00M1013.80,981.75H1019.00M1015.00,976.76H1019.00M1015.00,971.78H1019.00M1015.00,966.79H1019.00M1015.00,961.81H1019.00M1012.50,956.82H1019.00M1015.00,951.83H1019.00M1015.00,946.85H1019.00M1015.00,941.86H1019.00M1015.00,936.88H1019.00M1013.80,931.89H1019.00M1015.00,926.90H1019.00M1015.00,921.92H1019.00M1015.00,916.93H1019.00M1015.00,911.95H1019.00M1012.50,906.96H1019.00M1015.00,901.97H1019.00M1015.00,896.99H1019.00M1015.00,892.00H1019.00M1015.00,887.02H1019.00M1013.80,882.03H1019.00M1015.00,877.04H1019.00M1015.00,872.06H1019.00M1015.00,867.07H1019.00M1015.00,862.09H1019.00M1012.50,857.10H1019.00M1019.24,1106.40V1110.80M1026.79,1106.40V1110.80M1034.35,1106.40V1110.80M1041.90,1106.40V1112.80M1049.45,1106.40V1110.80M1057.01,1106.40V1110.80M1064.56,1106.40V1110.80M1072.12,1106.40V1110.80M1079.67,1106.40V1112.80M1087.23,1106.40V1110.80M1094.78,1106.40V1110.80M1102.33,1106.40V1110.80M1109.89,1106.40V1110.80M1117.44,1106.40V1112.80M1125.00,1106.40V1110.80M1132.55,1106.40V1110.80M1140.11,1106.40V1110.80M1147.66,1106.40V1110.80M1155.21,1106.40V1112.80M1162.77,1106.40V1110.80M1170.32,1106.40V1110.80M1177.88,1106.40V1110.80M1185.43,1106.40V1110.80M1192.99,1106.40V1112.80M1200.54,1106.40V1110.80M1208.09,1106.40V1110.80M1215.65,1106.40V1110.80M1223.20,1106.40V1110.80M1230.76,1106.40V1112.80M1238.31,1106.40V1110.80M1245.87,1106.40V1110.80M1253.42,1106.40V1110.80M1260.97,1106.40V1110.80M1268.53,1106.40V1112.80M1276.08,1106.40V1110.80M1283.64,1106.40V1110.80M1291.19,1106.40V1110.80M1298.75,1106.40V1110.80M1306.30,1106.40V1112.80" fill="none" stroke="#0c0c0c" stroke-width="1.15"/>
<text transform="translate(1010.7,1110.9) scale(1,1.14)" font-size="12" letter-spacing="0.45" text-anchor="end" fill="#222">0</text>
<text transform="translate(1010.7,1061.0) scale(1,1.14)" font-size="12" letter-spacing="0.45" text-anchor="end" fill="#222">20</text>
<text transform="translate(1010.7,1011.2) scale(1,1.14)" font-size="12" letter-spacing="0.45" text-anchor="end" fill="#222">40</text>
<text transform="translate(1010.7,961.3) scale(1,1.14)" font-size="12" letter-spacing="0.45" text-anchor="end" fill="#222">60</text>
<text transform="translate(1010.7,911.5) scale(1,1.14)" font-size="12" letter-spacing="0.45" text-anchor="end" fill="#222">80</text>
<text transform="translate(1010.7,861.6) scale(1,1.14)" font-size="12" letter-spacing="0.45" text-anchor="end" fill="#222">100</text>
<text x="1042.2" y="1125.3" font-size="13" text-anchor="middle" fill="#222" >3</text>
<text x="1080.0" y="1125.3" font-size="13" text-anchor="middle" fill="#222" >4</text>
<text x="1117.7" y="1125.3" font-size="13" text-anchor="middle" fill="#222" >5</text>
<text x="1155.5" y="1125.3" font-size="13" text-anchor="middle" fill="#222" >6</text>
<text x="1193.3" y="1125.3" font-size="13" text-anchor="middle" fill="#222" >7</text>
<text x="1231.1" y="1125.3" font-size="13" text-anchor="middle" fill="#222" >8</text>
<text x="1268.8" y="1125.3" font-size="13" text-anchor="middle" fill="#222" >9</text>
<text x="1304.5" y="1125.3" font-size="13" text-anchor="middle" fill="#222" >10</text>
<path d="M1353.2,1085.8C1353.6,1085.3 1355.1,1083.2 1356.0,1083.0C1356.8,1082.8 1357.7,1083.8 1358.4,1084.5C1359.1,1085.1 1359.7,1088.5 1360.3,1087.1C1360.9,1085.7 1361.5,1080.9 1362.2,1075.5C1362.8,1070.0 1363.7,1057.9 1364.4,1052.9C1365.1,1047.9 1365.9,1044.3 1366.7,1044.5C1367.4,1044.6 1368.3,1052.1 1369.1,1053.8C1369.9,1055.6 1370.9,1053.2 1371.6,1055.2C1372.3,1057.1 1372.8,1061.0 1373.4,1066.1C1374.1,1071.1 1375.0,1082.8 1375.7,1086.7C1376.4,1090.7 1376.9,1090.4 1377.6,1090.9C1378.2,1091.3 1379.1,1089.3 1379.8,1089.5C1380.6,1089.8 1381.6,1091.8 1382.3,1092.4C1383.0,1093.0 1383.5,1094.3 1384.2,1093.3C1384.8,1092.3 1386.0,1087.3 1386.6,1086.4C1387.2,1085.4 1387.4,1085.5 1387.9,1087.1C1388.4,1088.7 1389.1,1094.2 1389.8,1096.1C1390.5,1098.0 1391.4,1099.2 1392.2,1098.9C1393.0,1098.6 1394.0,1096.5 1394.9,1094.2C1395.7,1092.0 1396.6,1089.7 1397.3,1084.8C1398.0,1080.0 1398.7,1068.8 1399.2,1064.2C1399.7,1059.5 1400.0,1056.9 1400.5,1055.7C1400.9,1054.5 1401.5,1052.0 1402.0,1056.7C1402.5,1061.3 1403.3,1079.1 1403.9,1084.8C1404.5,1090.6 1405.0,1092.7 1405.8,1092.4C1406.5,1092.1 1407.7,1085.4 1408.6,1083.0C1409.4,1080.6 1410.3,1078.6 1411.0,1077.3C1411.8,1076.1 1412.6,1073.9 1413.3,1075.1C1413.9,1076.3 1414.6,1082.9 1415.2,1084.8C1415.8,1086.8 1416.4,1088.9 1417.0,1087.1C1417.6,1085.3 1418.3,1076.3 1418.9,1073.6C1419.5,1070.9 1420.2,1069.2 1420.8,1070.4C1421.4,1071.6 1422.0,1077.1 1422.7,1081.1C1423.3,1085.1 1424.2,1091.9 1424.9,1095.2C1425.7,1098.4 1426.7,1100.6 1427.4,1101.4C1428.1,1102.1 1428.6,1101.2 1429.2,1099.9C1429.8,1098.6 1430.5,1094.7 1431.1,1093.3C1431.7,1092.0 1432.4,1091.4 1433.0,1091.4C1433.6,1091.4 1434.2,1093.2 1434.9,1093.3C1435.6,1093.4 1436.6,1091.9 1437.3,1092.0C1438.1,1092.1 1438.9,1094.4 1439.6,1093.9C1440.2,1093.3 1440.9,1091.6 1441.5,1088.6C1442.1,1085.7 1442.7,1078.4 1443.3,1075.5C1443.9,1072.5 1444.6,1069.3 1445.2,1070.2C1445.8,1071.1 1446.5,1077.2 1447.1,1081.1C1447.7,1084.9 1448.4,1091.7 1449.0,1094.2C1449.6,1096.8 1450.2,1097.7 1450.8,1097.1C1451.4,1096.5 1452.1,1095.4 1452.7,1090.5C1453.4,1085.5 1454.3,1072.4 1455.0,1066.1C1455.6,1059.7 1456.3,1054.0 1456.9,1051.0C1457.5,1048.0 1458.1,1046.4 1458.7,1047.3C1459.3,1048.2 1459.9,1052.8 1460.6,1056.7C1461.3,1060.6 1462.3,1067.8 1463.1,1071.7C1463.8,1075.6 1464.8,1078.6 1465.5,1081.1C1466.3,1083.6 1467.0,1085.8 1467.8,1087.1C1468.5,1088.4 1469.4,1090.8 1470.0,1089.0C1470.6,1087.1 1471.0,1086.6 1471.5,1075.5C1472.0,1064.3 1472.5,1035.6 1473.0,1019.1C1473.5,1002.6 1474.0,984.1 1474.5,972.1C1475.0,960.1 1475.6,953.0 1476.2,943.9C1476.8,934.9 1477.5,927.2 1478.1,915.8C1478.7,904.3 1479.4,881.9 1480.0,872.5C1480.5,863.2 1481.0,856.2 1481.5,857.1C1481.9,858.0 1482.3,867.3 1482.8,878.2C1483.2,889.1 1483.8,910.1 1484.3,925.2C1484.7,940.2 1485.2,957.1 1485.6,972.1C1486.0,987.2 1486.5,1005.6 1486.9,1019.1C1487.4,1032.6 1487.9,1047.0 1488.4,1056.7C1488.9,1066.3 1489.5,1074.0 1489.9,1079.2C1490.4,1084.5 1490.8,1088.0 1491.2,1089.5C1491.7,1091.0 1492.2,1090.4 1492.7,1088.6C1493.3,1086.8 1493.9,1080.2 1494.4,1078.3C1495.0,1076.3 1495.8,1076.1 1496.3,1076.4C1496.9,1076.7 1497.3,1078.8 1497.8,1080.2C1498.3,1081.5 1498.8,1083.6 1499.3,1084.8C1499.9,1086.1 1500.5,1088.3 1501.2,1087.7C1501.9,1087.1 1502.6,1083.6 1503.5,1081.1C1504.3,1078.5 1505.5,1074.1 1506.3,1071.7C1507.0,1069.3 1507.6,1068.5 1508.2,1066.1C1508.7,1063.7 1509.3,1058.6 1509.7,1056.7C1510.0,1054.7 1510.2,1052.3 1510.6,1053.8C1511.0,1055.4 1511.5,1061.7 1511.9,1066.1C1512.4,1070.4 1513.0,1077.9 1513.4,1081.1C1513.9,1084.2 1514.2,1085.8 1514.7,1085.8C1515.2,1085.8 1516.0,1084.2 1516.6,1081.1C1517.2,1077.9 1517.9,1072.4 1518.5,1066.1C1519.1,1059.7 1519.8,1047.2 1520.4,1041.6C1520.9,1036.1 1521.4,1030.4 1521.9,1031.3C1522.3,1032.2 1522.7,1041.7 1523.2,1047.3C1523.6,1052.8 1524.2,1061.3 1524.7,1066.1C1525.1,1070.9 1525.5,1075.7 1526.0,1077.3C1526.5,1079.0 1527.2,1076.9 1527.9,1076.4C1528.5,1075.9 1529.4,1073.8 1530.1,1074.0C1530.9,1074.1 1531.9,1078.6 1532.6,1077.3C1533.3,1076.1 1533.9,1072.4 1534.5,1066.1C1535.0,1059.7 1535.3,1046.9 1535.8,1037.9C1536.2,1028.9 1536.8,1016.3 1537.3,1009.7C1537.8,1003.1 1538.3,998.2 1538.8,996.5C1539.2,994.9 1539.5,998.5 1540.1,999.4C1540.7,1000.3 1541.9,999.0 1542.5,1002.2C1543.1,1005.3 1543.3,1011.0 1543.8,1019.1C1544.4,1027.2 1545.2,1044.9 1545.7,1052.9C1546.3,1060.9 1546.7,1067.7 1547.2,1068.9C1547.7,1070.1 1548.4,1062.4 1548.9,1060.4C1549.4,1058.5 1549.9,1056.1 1550.4,1056.7C1550.9,1057.3 1551.5,1062.2 1551.9,1064.2C1552.3,1066.1 1552.5,1070.1 1552.9,1068.9C1553.2,1067.7 1553.7,1062.2 1554.2,1056.7C1554.6,1051.1 1555.2,1040.3 1555.7,1034.1C1556.1,1028.0 1556.6,1018.8 1557.0,1018.2C1557.4,1017.6 1557.9,1025.3 1558.3,1030.4C1558.8,1035.5 1559.3,1046.9 1559.8,1050.1C1560.3,1053.2 1560.9,1051.4 1561.3,1050.1C1561.8,1048.7 1562.2,1043.0 1562.6,1041.6C1563.1,1040.3 1563.5,1038.3 1564.0,1041.6C1564.4,1044.9 1565.0,1057.3 1565.5,1062.3C1565.9,1067.3 1566.3,1072.0 1566.8,1072.6C1567.2,1073.2 1567.8,1068.5 1568.3,1066.1C1568.7,1063.7 1569.1,1059.0 1569.6,1057.6C1570.0,1056.3 1570.6,1055.1 1571.1,1057.6C1571.6,1060.2 1572.1,1069.8 1572.6,1073.6C1573.0,1077.3 1573.5,1080.2 1573.9,1081.1C1574.3,1082.0 1574.7,1081.9 1575.2,1079.2C1575.7,1076.5 1576.5,1068.4 1577.1,1064.2C1577.7,1060.0 1578.3,1055.6 1579.0,1052.9C1579.7,1050.2 1580.7,1050.3 1581.4,1047.3C1582.1,1044.3 1582.7,1039.5 1583.3,1034.1C1583.9,1028.7 1584.7,1018.0 1585.2,1013.5C1585.7,1008.9 1586.0,1005.9 1586.5,1005.9C1586.9,1005.9 1587.5,1010.9 1588.0,1013.5C1588.5,1016.0 1589.0,1020.6 1589.5,1021.9C1590.0,1023.3 1590.8,1023.0 1591.4,1021.9C1592.0,1020.9 1592.7,1019.4 1593.3,1015.3C1593.8,1011.3 1594.3,1003.5 1594.8,996.5C1595.2,989.6 1595.6,977.2 1596.1,972.1C1596.6,967.0 1597.3,962.5 1597.8,964.6C1598.3,966.7 1598.8,979.6 1599.3,985.3C1599.8,991.0 1600.3,997.3 1600.8,1000.3C1601.2,1003.3 1601.7,1005.6 1602.1,1004.1C1602.5,1002.6 1603.0,997.5 1603.4,990.9C1603.9,984.3 1604.5,969.5 1604.9,962.7C1605.4,956.0 1605.8,948.6 1606.2,948.6C1606.7,948.6 1607.3,954.5 1607.7,962.7C1608.2,971.0 1608.6,988.3 1609.0,1000.3C1609.5,1012.3 1610.1,1030.2 1610.5,1037.9C1611.0,1045.5 1611.4,1048.5 1611.9,1048.2C1612.3,1047.9 1612.9,1038.9 1613.4,1036.0C1613.8,1033.1 1614.4,1031.6 1614.9,1030.4C1615.4,1029.2 1616.0,1033.3 1616.6,1028.5C1617.1,1023.7 1617.6,1010.8 1618.1,1000.3C1618.5,989.8 1619.1,969.9 1619.6,962.7C1620.1,955.5 1620.7,953.7 1621.3,955.2C1621.8,956.7 1622.3,964.9 1622.8,972.1C1623.2,979.3 1623.7,992.8 1624.3,1000.3C1624.8,1007.8 1625.4,1014.9 1626.0,1019.1C1626.5,1023.3 1626.9,1025.0 1627.5,1026.6C1628.0,1028.3 1628.8,1026.4 1629.3,1029.4C1629.9,1032.4 1630.4,1040.6 1630.8,1045.4C1631.3,1050.2 1631.9,1059.2 1632.3,1059.5C1632.8,1059.8 1633.2,1053.1 1633.7,1047.3C1634.1,1041.4 1634.5,1029.5 1635.0,1022.8C1635.4,1016.2 1636.0,1008.7 1636.5,1005.9C1637.0,1003.2 1637.9,1005.6 1638.2,1005.6" fill="none" stroke="#3a3a3a" stroke-width="0.95" stroke-linejoin="round"/>
<path d="M1353.20,855.10V1107.30M1346.70,1106.70H1640.60" fill="none" stroke="#0c0c0c" stroke-width="1.45"/>
<path d="M1346.70,1106.70H1353.20M1349.20,1101.68H1353.20M1349.20,1096.66H1353.20M1349.20,1091.64H1353.20M1349.20,1086.62H1353.20M1348.00,1081.60H1353.20M1349.20,1076.58H1353.20M1349.20,1071.56H1353.20M1349.20,1066.54H1353.20M1349.20,1061.52H1353.20M1346.70,1056.50H1353.20M1349.20,1051.48H1353.20M1349.20,1046.46H1353.20M1349.20,1041.44H1353.20M1349.20,1036.42H1353.20M1348.00,1031.40H1353.20M1349.20,1026.38H1353.20M1349.20,1021.36H1353.20M1349.20,1016.34H1353.20M1349.20,1011.32H1353.20M1346.70,1006.30H1353.20M1349.20,1001.28H1353.20M1349.20,996.26H1353.20M1349.20,991.24H1353.20M1349.20,986.22H1353.20M1348.00,981.20H1353.20M1349.20,976.18H1353.20M1349.20,971.16H1353.20M1349.20,966.14H1353.20M1349.20,961.12H1353.20M1346.70,956.10H1353.20M1349.20,951.08H1353.20M1349.20,946.06H1353.20M1349.20,941.04H1353.20M1349.20,936.02H1353.20M1348.00,931.00H1353.20M1349.20,925.98H1353.20M1349.20,920.96H1353.20M1349.20,915.94H1353.20M1349.20,910.92H1353.20M1346.70,905.90H1353.20M1349.20,900.88H1353.20M1349.20,895.86H1353.20M1349.20,890.84H1353.20M1349.20,885.82H1353.20M1348.00,880.80H1353.20M1349.20,875.78H1353.20M1349.20,870.76H1353.20M1349.20,865.74H1353.20M1349.20,860.72H1353.20M1346.70,855.70H1353.20M1355.50,1106.70V1109.30M1358.37,1106.70V1109.30M1361.25,1106.70V1109.30M1364.12,1106.70V1109.30M1366.99,1106.70V1111.30M1369.87,1106.70V1109.30M1372.74,1106.70V1109.30M1375.61,1106.70V1109.30M1378.49,1106.70V1109.30M1381.36,1106.70V1111.30M1384.24,1106.70V1109.30M1387.11,1106.70V1109.30M1389.98,1106.70V1109.30M1392.86,1106.70V1109.30M1395.73,1106.70V1111.30M1398.61,1106.70V1109.30M1401.48,1106.70V1109.30M1404.35,1106.70V1109.30M1407.23,1106.70V1109.30M1410.10,1106.70V1113.60M1412.97,1106.70V1109.30M1415.85,1106.70V1109.30M1418.72,1106.70V1109.30M1421.59,1106.70V1109.30M1424.47,1106.70V1111.30M1427.34,1106.70V1109.30M1430.22,1106.70V1109.30M1433.09,1106.70V1109.30M1435.96,1106.70V1109.30M1438.84,1106.70V1111.30M1441.71,1106.70V1109.30M1444.59,1106.70V1109.30M1447.46,1106.70V1109.30M1450.33,1106.70V1109.30M1453.21,1106.70V1111.30M1456.08,1106.70V1109.30M1458.95,1106.70V1109.30M1461.83,1106.70V1109.30M1464.70,1106.70V1109.30M1467.57,1106.70V1113.60M1470.45,1106.70V1109.30M1473.32,1106.70V1109.30M1476.20,1106.70V1109.30M1479.07,1106.70V1109.30M1481.94,1106.70V1111.30M1484.82,1106.70V1109.30M1487.69,1106.70V1109.30M1490.57,1106.70V1109.30M1493.44,1106.70V1109.30M1496.31,1106.70V1111.30M1499.19,1106.70V1109.30M1502.06,1106.70V1109.30M1504.93,1106.70V1109.30M1507.81,1106.70V1109.30M1510.68,1106.70V1111.30M1513.55,1106.70V1109.30M1516.43,1106.70V1109.30M1519.30,1106.70V1109.30M1522.18,1106.70V1109.30M1525.05,1106.70V1113.60M1527.92,1106.70V1109.30M1530.80,1106.70V1109.30M1533.67,1106.70V1109.30M1536.55,1106.70V1109.30M1539.42,1106.70V1111.30M1542.29,1106.70V1109.30M1545.17,1106.70V1109.30M1548.04,1106.70V1109.30M1550.91,1106.70V1109.30M1553.79,1106.70V1111.30M1556.66,1106.70V1109.30M1559.53,1106.70V1109.30M1562.41,1106.70V1109.30M1565.28,1106.70V1109.30M1568.16,1106.70V1111.30M1571.03,1106.70V1109.30M1573.90,1106.70V1109.30M1576.78,1106.70V1109.30M1579.65,1106.70V1109.30M1582.53,1106.70V1113.60M1585.40,1106.70V1109.30M1588.27,1106.70V1109.30M1591.15,1106.70V1109.30M1594.02,1106.70V1109.30M1596.89,1106.70V1111.30M1599.77,1106.70V1109.30M1602.64,1106.70V1109.30M1605.52,1106.70V1109.30M1608.39,1106.70V1109.30M1611.26,1106.70V1111.30M1614.14,1106.70V1109.30M1617.01,1106.70V1109.30M1619.88,1106.70V1109.30M1622.76,1106.70V1109.30M1625.63,1106.70V1111.30M1628.51,1106.70V1109.30M1631.38,1106.70V1109.30M1634.25,1106.70V1109.30M1637.13,1106.70V1109.30M1640.00,1106.70V1113.60" fill="none" stroke="#0c0c0c" stroke-width="1.15"/>
<text transform="translate(1345.8,1108.9) scale(1,1.14)" font-size="12" letter-spacing="0.45" text-anchor="end" fill="#222">0</text>
<text transform="translate(1345.8,1059.0) scale(1,1.14)" font-size="12" letter-spacing="0.45" text-anchor="end" fill="#222">20</text>
<text transform="translate(1345.8,1009.2) scale(1,1.14)" font-size="12" letter-spacing="0.45" text-anchor="end" fill="#222">40</text>
<text transform="translate(1345.8,959.3) scale(1,1.14)" font-size="12" letter-spacing="0.45" text-anchor="end" fill="#222">60</text>
<text transform="translate(1345.8,909.5) scale(1,1.14)" font-size="12" letter-spacing="0.45" text-anchor="end" fill="#222">80</text>
<text transform="translate(1345.8,859.6) scale(1,1.14)" font-size="12" letter-spacing="0.45" text-anchor="end" fill="#222">100</text>
<text transform="translate(1409.5,1126.7) scale(1,1.17)" font-size="12.3" text-anchor="middle" fill="#222">2</text>
<text transform="translate(1467.0,1126.7) scale(1,1.17)" font-size="12.3" text-anchor="middle" fill="#222">4</text>
<text transform="translate(1524.5,1126.7) scale(1,1.17)" font-size="12.3" text-anchor="middle" fill="#222">6</text>
<text transform="translate(1581.9,1126.7) scale(1,1.17)" font-size="12.3" text-anchor="middle" fill="#222">8</text>
<text transform="translate(1638.2,1126.7) scale(1,1.17)" font-size="12.3" text-anchor="middle" fill="#222">10</text>
<path d="M1019.8,1340.2C1020.1,1341.6 1021.0,1344.3 1021.6,1348.7C1022.2,1353.1 1022.9,1363.0 1023.5,1367.5C1024.1,1371.9 1024.8,1374.8 1025.4,1376.5C1026.0,1378.2 1026.7,1378.4 1027.3,1377.8C1027.9,1377.3 1028.6,1376.6 1029.2,1373.1C1029.8,1369.7 1030.4,1361.9 1031.0,1356.2C1031.6,1350.5 1032.3,1341.6 1032.9,1337.4C1033.5,1333.2 1034.2,1332.3 1034.8,1329.9C1035.4,1327.5 1036.1,1326.3 1036.7,1322.4C1037.2,1318.5 1037.7,1314.2 1038.2,1305.5C1038.7,1296.8 1039.2,1281.4 1039.7,1267.9C1040.1,1254.4 1040.6,1236.0 1041.0,1220.9C1041.4,1205.9 1041.9,1186.6 1042.3,1174.0C1042.7,1161.3 1043.1,1148.2 1043.4,1142.0C1043.8,1135.9 1044.2,1135.8 1044.6,1135.5C1044.9,1135.2 1045.3,1135.5 1045.7,1140.2C1046.1,1144.8 1046.7,1156.2 1047.2,1164.6C1047.7,1173.0 1048.5,1184.6 1049.1,1192.8C1049.7,1200.9 1050.4,1209.3 1051.0,1215.3C1051.6,1221.3 1052.2,1226.7 1052.8,1230.3C1053.4,1233.9 1054.1,1235.6 1054.7,1237.8C1055.3,1240.1 1055.9,1239.6 1056.4,1244.4C1056.9,1249.2 1057.5,1259.6 1057.9,1267.9C1058.4,1276.2 1058.8,1290.0 1059.2,1296.1C1059.6,1302.2 1060.0,1306.5 1060.4,1305.9C1060.7,1305.3 1061.2,1297.2 1061.7,1292.3C1062.1,1287.5 1062.5,1279.1 1063.0,1275.4C1063.4,1271.8 1064.0,1268.8 1064.5,1269.4C1065.0,1270.0 1065.5,1276.1 1066.0,1279.2C1066.4,1282.2 1066.9,1287.0 1067.3,1288.6C1067.8,1290.1 1068.4,1289.5 1068.8,1289.0C1069.3,1288.4 1069.7,1285.0 1070.1,1285.2C1070.6,1285.4 1071.1,1287.5 1071.6,1290.5C1072.2,1293.4 1072.9,1300.4 1073.5,1303.6C1074.1,1306.9 1074.8,1310.9 1075.4,1310.7C1076.0,1310.6 1076.7,1304.4 1077.3,1302.7C1077.9,1301.0 1078.6,1299.5 1079.1,1300.2C1079.7,1301.0 1079.9,1303.5 1080.5,1307.4C1081.0,1311.2 1081.7,1320.1 1082.3,1324.3C1082.9,1328.5 1083.6,1331.8 1084.2,1333.7C1084.8,1335.5 1085.5,1335.3 1086.1,1335.9C1086.7,1336.5 1087.4,1335.4 1088.0,1337.4C1088.6,1339.5 1089.2,1345.5 1089.8,1348.7C1090.4,1351.9 1091.0,1356.0 1091.7,1357.2C1092.4,1358.3 1093.4,1356.3 1094.2,1355.8C1094.9,1355.3 1095.7,1354.5 1096.4,1354.0C1097.1,1353.4 1098.0,1353.4 1098.7,1352.5C1099.3,1351.5 1100.0,1348.7 1100.6,1347.8C1101.1,1346.9 1101.6,1346.1 1102.1,1346.8C1102.5,1347.6 1103.0,1349.1 1103.6,1352.5C1104.1,1355.8 1104.8,1363.7 1105.4,1367.5C1106.0,1371.2 1106.7,1374.4 1107.3,1375.9C1107.9,1377.5 1108.5,1377.4 1109.2,1377.3C1109.9,1377.1 1110.7,1375.2 1111.5,1375.0C1112.2,1374.8 1113.0,1376.5 1113.7,1375.9C1114.4,1375.3 1115.0,1374.1 1115.6,1371.2C1116.2,1368.4 1116.9,1362.3 1117.5,1358.1C1118.1,1353.9 1118.8,1347.6 1119.3,1344.9C1119.9,1342.3 1120.3,1341.6 1120.8,1341.6C1121.4,1341.5 1122.1,1343.7 1122.7,1344.6C1123.3,1345.5 1124.0,1347.4 1124.6,1347.2C1125.2,1347.0 1125.9,1344.3 1126.5,1343.4C1127.1,1342.5 1127.8,1341.2 1128.4,1341.6C1129.0,1341.9 1129.6,1344.1 1130.2,1345.9C1130.8,1347.6 1131.5,1351.0 1132.1,1352.5C1132.7,1354.0 1133.3,1354.4 1134.0,1355.3C1134.7,1356.2 1135.6,1355.5 1136.3,1358.1C1136.9,1360.6 1137.5,1367.8 1138.1,1371.2C1138.7,1374.7 1139.4,1378.2 1140.0,1379.7C1140.6,1381.2 1141.2,1381.3 1141.9,1380.6C1142.6,1379.9 1143.6,1375.7 1144.3,1375.4C1145.0,1375.1 1145.5,1377.9 1146.2,1378.8C1146.9,1379.6 1147.9,1381.2 1148.7,1380.6C1149.4,1380.0 1150.1,1377.0 1150.9,1375.0C1151.7,1373.0 1152.8,1370.4 1153.7,1368.4C1154.6,1366.5 1155.8,1363.8 1156.5,1362.8C1157.3,1361.7 1157.8,1361.5 1158.4,1361.8C1159.0,1362.1 1159.7,1366.2 1160.3,1364.7C1160.9,1363.2 1161.6,1355.9 1162.2,1352.5C1162.8,1349.0 1163.5,1345.0 1164.1,1343.1C1164.6,1341.1 1165.0,1340.2 1165.6,1340.2C1166.1,1340.2 1166.9,1342.6 1167.4,1343.1C1168.0,1343.5 1168.3,1344.6 1168.8,1343.1C1169.2,1341.6 1169.7,1336.7 1170.1,1333.7C1170.5,1330.7 1170.8,1326.2 1171.2,1324.3C1171.6,1322.3 1172.1,1320.6 1172.5,1321.5C1172.9,1322.4 1173.4,1326.5 1173.8,1329.9C1174.3,1333.4 1174.8,1339.8 1175.3,1343.1C1175.9,1346.4 1176.6,1349.2 1177.2,1350.6C1177.8,1351.9 1178.5,1350.0 1179.1,1351.5C1179.7,1353.0 1180.3,1357.1 1181.0,1360.0C1181.6,1362.8 1182.6,1368.8 1183.2,1369.4C1183.9,1370.0 1184.5,1367.9 1185.1,1363.7C1185.7,1359.5 1186.4,1349.1 1187.0,1343.1C1187.6,1337.0 1188.3,1329.7 1188.9,1326.2C1189.5,1322.6 1190.1,1321.4 1190.7,1321.1C1191.3,1320.8 1192.0,1322.7 1192.6,1324.3C1193.2,1325.8 1193.9,1329.2 1194.5,1330.8C1195.1,1332.5 1195.7,1334.8 1196.4,1334.6C1197.1,1334.5 1198.0,1331.9 1198.8,1329.9C1199.6,1328.0 1200.6,1326.0 1201.3,1322.4C1202.0,1318.8 1202.5,1312.5 1203.1,1307.4C1203.7,1302.3 1204.4,1294.7 1205.0,1290.5C1205.6,1286.2 1206.3,1283.0 1206.9,1281.1C1207.5,1279.1 1208.2,1278.6 1208.8,1278.2C1209.3,1277.9 1209.8,1276.9 1210.3,1278.8C1210.8,1280.8 1211.4,1285.6 1212.0,1290.5C1212.5,1295.3 1213.2,1304.4 1213.8,1309.2C1214.4,1314.1 1215.0,1318.1 1215.7,1320.5C1216.4,1322.9 1217.4,1323.4 1218.2,1324.3C1218.9,1325.2 1219.7,1324.8 1220.4,1326.2C1221.1,1327.5 1222.0,1331.3 1222.7,1332.7C1223.3,1334.2 1224.0,1335.6 1224.6,1335.2C1225.2,1334.7 1225.7,1332.6 1226.4,1329.9C1227.1,1327.3 1228.1,1321.9 1228.9,1318.6C1229.7,1315.3 1230.6,1312.8 1231.3,1309.2C1232.0,1305.6 1232.7,1298.9 1233.2,1296.1C1233.7,1293.3 1234.1,1292.0 1234.5,1292.0C1235.0,1292.0 1235.6,1294.0 1236.0,1296.1C1236.5,1298.2 1236.9,1303.9 1237.3,1305.1C1237.8,1306.3 1238.4,1306.6 1238.8,1303.6C1239.3,1300.7 1239.6,1292.1 1240.2,1286.7C1240.7,1281.3 1241.5,1271.3 1242.0,1269.8C1242.6,1268.3 1243.1,1273.1 1243.5,1277.3C1244.0,1281.5 1244.4,1291.4 1244.8,1296.1C1245.3,1300.8 1245.8,1304.2 1246.4,1306.4C1246.9,1308.7 1247.6,1307.9 1248.2,1310.2C1248.8,1312.4 1249.5,1317.4 1250.1,1320.5C1250.7,1323.7 1251.5,1328.4 1252.0,1329.9C1252.5,1331.4 1252.9,1332.3 1253.3,1329.9C1253.8,1327.5 1254.4,1320.9 1254.8,1314.9C1255.3,1308.9 1255.7,1298.6 1256.1,1292.3C1256.6,1286.0 1257.2,1279.0 1257.6,1275.4C1258.0,1271.9 1258.3,1269.0 1258.8,1270.2C1259.2,1271.4 1259.8,1278.3 1260.3,1282.9C1260.7,1287.5 1261.1,1296.1 1261.8,1298.9C1262.4,1301.8 1263.8,1299.4 1264.6,1300.8C1265.3,1302.1 1265.8,1304.8 1266.5,1307.4C1267.1,1309.9 1268.1,1313.8 1268.9,1316.8C1269.6,1319.8 1270.5,1323.1 1271.2,1326.2C1271.8,1329.2 1272.4,1333.8 1273.0,1335.5C1273.6,1337.3 1274.3,1339.5 1274.9,1337.0C1275.5,1334.6 1276.2,1327.7 1276.8,1320.5C1277.3,1313.4 1277.8,1303.8 1278.3,1292.3C1278.8,1280.9 1279.5,1260.2 1280.0,1249.1C1280.5,1238.0 1280.9,1228.1 1281.5,1222.8C1282.0,1217.6 1282.8,1215.6 1283.4,1216.2C1283.9,1216.8 1284.4,1221.3 1284.9,1226.6C1285.4,1231.8 1286.0,1243.1 1286.6,1249.1C1287.1,1255.1 1287.5,1261.0 1288.1,1264.2C1288.6,1267.3 1289.3,1267.0 1289.9,1268.8C1290.5,1270.7 1291.2,1271.7 1291.8,1275.4C1292.4,1279.2 1293.1,1286.3 1293.7,1292.3C1294.3,1298.3 1295.0,1307.7 1295.6,1313.0C1296.2,1318.3 1296.8,1322.6 1297.5,1325.2C1298.1,1327.9 1299.0,1328.9 1299.7,1329.5C1300.4,1330.1 1301.1,1330.1 1301.8,1329.0C1302.4,1327.8 1303.1,1326.2 1303.7,1322.4C1304.2,1318.6 1304.8,1312.7 1305.3,1305.5C1305.9,1298.3 1306.4,1286.3 1306.8,1277.3C1307.3,1268.3 1307.7,1255.6 1308.0,1249.1C1308.3,1242.7 1308.6,1238.9 1308.7,1236.9" fill="none" stroke="#3a3a3a" stroke-width="0.95" stroke-linejoin="round"/>
<path d="M1019.80,1134.30V1384.40M1013.30,1383.80H1309.30" fill="none" stroke="#0c0c0c" stroke-width="1.45"/>
<path d="M1013.30,1383.80H1019.80M1015.80,1378.82H1019.80M1015.80,1373.84H1019.80M1015.80,1368.87H1019.80M1015.80,1363.89H1019.80M1014.60,1358.91H1019.80M1015.80,1353.93H1019.80M1015.80,1348.95H1019.80M1015.80,1343.98H1019.80M1015.80,1339.00H1019.80M1013.30,1334.02H1019.80M1015.80,1329.04H1019.80M1015.80,1324.06H1019.80M1015.80,1319.09H1019.80M1015.80,1314.11H1019.80M1014.60,1309.13H1019.80M1015.80,1304.15H1019.80M1015.80,1299.17H1019.80M1015.80,1294.20H1019.80M1015.80,1289.22H1019.80M1013.30,1284.24H1019.80M1015.80,1279.26H1019.80M1015.80,1274.28H1019.80M1015.80,1269.31H1019.80M1015.80,1264.33H1019.80M1014.60,1259.35H1019.80M1015.80,1254.37H1019.80M1015.80,1249.39H1019.80M1015.80,1244.42H1019.80M1015.80,1239.44H1019.80M1013.30,1234.46H1019.80M1015.80,1229.48H1019.80M1015.80,1224.50H1019.80M1015.80,1219.53H1019.80M1015.80,1214.55H1019.80M1014.60,1209.57H1019.80M1015.80,1204.59H1019.80M1015.80,1199.61H1019.80M1015.80,1194.64H1019.80M1015.80,1189.66H1019.80M1013.30,1184.68H1019.80M1015.80,1179.70H1019.80M1015.80,1174.72H1019.80M1015.80,1169.75H1019.80M1015.80,1164.77H1019.80M1014.60,1159.79H1019.80M1015.80,1154.81H1019.80M1015.80,1149.83H1019.80M1015.80,1144.86H1019.80M1015.80,1139.88H1019.80M1013.30,1134.90H1019.80M1021.75,1383.80V1388.20M1029.30,1383.80V1388.20M1036.85,1383.80V1388.20M1044.40,1383.80V1390.20M1051.95,1383.80V1388.20M1059.50,1383.80V1388.20M1067.05,1383.80V1388.20M1074.61,1383.80V1388.20M1082.16,1383.80V1390.20M1089.71,1383.80V1388.20M1097.26,1383.80V1388.20M1104.81,1383.80V1388.20M1112.36,1383.80V1388.20M1119.91,1383.80V1390.20M1127.47,1383.80V1388.20M1135.02,1383.80V1388.20M1142.57,1383.80V1388.20M1150.12,1383.80V1388.20M1157.67,1383.80V1390.20M1165.22,1383.80V1388.20M1172.77,1383.80V1388.20M1180.33,1383.80V1388.20M1187.88,1383.80V1388.20M1195.43,1383.80V1390.20M1202.98,1383.80V1388.20M1210.53,1383.80V1388.20M1218.08,1383.80V1388.20M1225.63,1383.80V1388.20M1233.19,1383.80V1390.20M1240.74,1383.80V1388.20M1248.29,1383.80V1388.20M1255.84,1383.80V1388.20M1263.39,1383.80V1388.20M1270.94,1383.80V1390.20M1278.49,1383.80V1388.20M1286.05,1383.80V1388.20M1293.60,1383.80V1388.20M1301.15,1383.80V1388.20M1308.70,1383.80V1390.20" fill="none" stroke="#0c0c0c" stroke-width="1.15"/>
<text transform="translate(1011.5,1388.3) scale(1,1.14)" font-size="12" letter-spacing="0.45" text-anchor="end" fill="#222">0</text>
<text transform="translate(1011.5,1338.5) scale(1,1.14)" font-size="12" letter-spacing="0.45" text-anchor="end" fill="#222">20</text>
<text transform="translate(1011.5,1288.7) scale(1,1.14)" font-size="12" letter-spacing="0.45" text-anchor="end" fill="#222">40</text>
<text transform="translate(1011.5,1239.0) scale(1,1.14)" font-size="12" letter-spacing="0.45" text-anchor="end" fill="#222">60</text>
<text transform="translate(1011.5,1189.2) scale(1,1.14)" font-size="12" letter-spacing="0.45" text-anchor="end" fill="#222">80</text>
<text transform="translate(1011.5,1139.4) scale(1,1.14)" font-size="12" letter-spacing="0.45" text-anchor="end" fill="#222">100</text>
<text x="1044.7" y="1402.7" font-size="13" text-anchor="middle" fill="#222" >3</text>
<text x="1082.5" y="1402.7" font-size="13" text-anchor="middle" fill="#222" >4</text>
<text x="1120.2" y="1402.7" font-size="13" text-anchor="middle" fill="#222" >5</text>
<text x="1158.0" y="1402.7" font-size="13" text-anchor="middle" fill="#222" >6</text>
<text x="1195.7" y="1402.7" font-size="13" text-anchor="middle" fill="#222" >7</text>
<text x="1233.5" y="1402.7" font-size="13" text-anchor="middle" fill="#222" >8</text>
<text x="1271.2" y="1402.7" font-size="13" text-anchor="middle" fill="#222" >9</text>
<text x="1306.9" y="1402.7" font-size="13" text-anchor="middle" fill="#222" >10</text>
<path d="M1352.8,1345.9C1353.1,1344.8 1354.1,1344.3 1354.7,1339.3C1355.2,1334.3 1355.5,1321.8 1356.0,1314.9C1356.4,1308.0 1357.0,1298.9 1357.5,1296.1C1358.0,1293.3 1358.6,1297.4 1359.2,1297.6C1359.7,1297.7 1360.5,1296.9 1361.0,1297.0C1361.6,1297.2 1362.1,1294.0 1362.5,1298.3C1363.0,1302.7 1363.6,1315.6 1364.0,1324.3C1364.5,1332.9 1365.0,1346.8 1365.4,1352.5C1365.8,1358.1 1366.1,1362.6 1366.5,1359.6C1366.9,1356.6 1367.4,1342.9 1367.8,1333.7C1368.3,1324.4 1368.9,1308.6 1369.3,1301.7C1369.8,1294.9 1370.2,1290.2 1370.6,1290.8C1371.0,1291.4 1371.5,1298.6 1371.9,1305.5C1372.4,1312.3 1373.0,1327.2 1373.4,1333.7C1373.9,1340.1 1374.3,1344.7 1374.8,1345.9C1375.2,1347.1 1375.8,1342.5 1376.3,1341.2C1376.7,1339.8 1377.1,1337.4 1377.6,1337.4C1378.0,1337.4 1378.6,1340.3 1379.1,1341.2C1379.5,1342.1 1380.0,1344.3 1380.4,1343.1C1380.8,1341.9 1381.3,1336.7 1381.7,1333.7C1382.2,1330.6 1382.7,1323.0 1383.2,1323.9C1383.7,1324.8 1384.3,1334.4 1384.7,1339.3C1385.2,1344.2 1385.5,1350.9 1386.0,1354.3C1386.5,1357.8 1387.3,1359.1 1387.9,1360.9C1388.5,1362.7 1389.2,1364.0 1389.8,1365.6C1390.4,1367.2 1391.1,1369.9 1391.7,1370.9C1392.2,1371.9 1392.7,1372.6 1393.2,1371.8C1393.7,1371.0 1394.3,1369.3 1394.9,1365.6C1395.4,1361.9 1395.9,1354.7 1396.4,1348.7C1396.8,1342.7 1397.4,1332.5 1397.9,1328.0C1398.3,1323.5 1398.8,1321.1 1399.2,1320.5C1399.6,1319.9 1400.1,1323.1 1400.5,1324.3C1400.9,1325.5 1401.2,1329.5 1401.6,1328.0C1402.0,1326.5 1402.7,1318.2 1403.1,1314.9C1403.6,1311.5 1404.0,1305.5 1404.4,1307.0C1404.9,1308.5 1405.3,1317.6 1405.8,1324.3C1406.2,1330.9 1406.8,1343.6 1407.3,1348.7C1407.7,1353.8 1408.3,1355.6 1408.8,1356.2C1409.3,1356.8 1410.0,1353.1 1410.5,1352.5C1410.9,1351.8 1411.3,1351.3 1411.8,1351.9C1412.3,1352.5 1413.0,1354.9 1413.6,1356.2C1414.3,1357.5 1415.3,1358.9 1416.1,1360.0C1416.9,1361.0 1417.8,1362.0 1418.5,1362.8C1419.2,1363.5 1419.8,1363.8 1420.4,1364.7C1421.0,1365.6 1421.7,1368.9 1422.3,1368.4C1422.9,1368.0 1423.7,1365.3 1424.2,1361.8C1424.7,1358.4 1425.1,1350.3 1425.5,1346.8C1425.9,1343.4 1426.3,1340.2 1426.8,1340.2C1427.3,1340.2 1427.8,1344.4 1428.3,1346.8C1428.8,1349.2 1429.4,1353.6 1429.8,1355.3C1430.3,1356.9 1430.7,1357.2 1431.1,1357.2C1431.5,1357.2 1432.0,1355.7 1432.4,1355.3C1432.9,1354.9 1433.5,1353.7 1433.9,1354.7C1434.4,1355.8 1434.9,1359.4 1435.4,1361.8C1436.0,1364.3 1436.7,1368.5 1437.3,1370.3C1437.9,1372.1 1438.5,1372.5 1439.2,1373.1C1439.9,1373.7 1440.8,1374.2 1441.5,1374.1C1442.1,1373.9 1442.8,1374.1 1443.3,1372.2C1443.9,1370.2 1444.4,1365.2 1444.8,1361.8C1445.3,1358.5 1445.8,1353.4 1446.2,1351.5C1446.5,1349.7 1446.7,1348.8 1447.1,1350.2C1447.5,1351.6 1448.1,1357.1 1448.6,1360.0C1449.0,1362.9 1449.5,1366.9 1449.9,1368.4C1450.3,1369.9 1450.8,1370.7 1451.2,1369.4C1451.6,1368.0 1451.9,1362.6 1452.4,1360.0C1452.8,1357.4 1453.3,1353.5 1453.9,1353.0C1454.4,1352.6 1455.0,1355.7 1455.5,1357.2C1456.1,1358.6 1456.8,1360.2 1457.4,1361.8C1458.0,1363.5 1458.7,1365.4 1459.3,1367.5C1459.9,1369.5 1460.6,1373.3 1461.2,1374.6C1461.8,1376.0 1462.5,1376.3 1463.1,1375.9C1463.7,1375.5 1464.3,1373.7 1464.9,1372.2C1465.5,1370.7 1466.2,1368.2 1466.8,1366.5C1467.4,1364.9 1468.1,1363.4 1468.7,1361.8C1469.3,1360.3 1470.0,1360.2 1470.6,1357.2C1471.1,1354.1 1471.6,1351.3 1472.1,1343.1C1472.5,1334.8 1473.0,1319.0 1473.4,1305.5C1473.8,1292.0 1474.2,1275.0 1474.5,1258.5C1474.9,1242.0 1475.3,1218.7 1475.6,1202.2C1476.0,1185.6 1476.4,1165.9 1476.8,1155.2C1477.1,1144.4 1477.5,1135.8 1477.9,1134.9C1478.3,1134.0 1478.7,1140.3 1479.0,1149.5C1479.4,1158.8 1479.8,1176.8 1480.2,1192.8C1480.5,1208.7 1480.9,1232.6 1481.3,1249.1C1481.6,1265.7 1482.1,1284.5 1482.4,1296.1C1482.8,1307.7 1483.2,1317.5 1483.5,1321.5C1483.9,1325.4 1484.3,1323.1 1484.7,1320.5C1485.0,1318.0 1485.4,1312.4 1485.8,1305.5C1486.2,1298.6 1486.7,1284.4 1487.1,1277.3C1487.5,1270.2 1488.1,1264.2 1488.4,1261.3C1488.8,1258.5 1489.1,1256.9 1489.4,1259.5C1489.7,1262.0 1490.0,1269.9 1490.3,1277.3C1490.6,1284.7 1491.1,1297.7 1491.4,1305.5C1491.8,1313.3 1492.2,1321.2 1492.6,1326.2C1492.9,1331.1 1493.3,1336.8 1493.7,1336.5C1494.1,1336.2 1494.5,1327.2 1495.0,1324.3C1495.5,1321.4 1496.1,1317.7 1496.5,1318.3C1497.0,1318.9 1497.4,1324.7 1497.8,1328.0C1498.3,1331.4 1498.9,1336.7 1499.3,1339.3C1499.8,1341.9 1500.2,1343.4 1500.6,1344.0C1501.1,1344.6 1501.7,1344.1 1502.1,1343.1C1502.6,1342.0 1503.0,1339.4 1503.5,1337.4C1503.9,1335.5 1504.5,1332.1 1505.0,1330.8C1505.4,1329.6 1505.9,1327.6 1506.3,1329.5C1506.7,1331.5 1507.2,1339.1 1507.6,1343.1C1508.0,1347.0 1508.3,1354.3 1508.7,1354.3C1509.1,1354.3 1509.6,1347.6 1510.0,1343.1C1510.5,1338.6 1510.9,1329.8 1511.3,1326.2C1511.8,1322.5 1512.4,1321.3 1512.8,1320.5C1513.3,1319.8 1513.9,1319.4 1514.4,1321.5C1514.8,1323.6 1515.2,1329.3 1515.7,1333.7C1516.1,1338.0 1516.5,1344.6 1517.0,1348.7C1517.4,1352.8 1518.0,1358.4 1518.5,1359.0C1519.0,1359.6 1519.5,1355.9 1520.0,1352.5C1520.5,1349.0 1521.0,1342.5 1521.5,1337.4C1522.0,1332.3 1522.7,1324.4 1523.2,1320.5C1523.7,1316.6 1524.0,1312.7 1524.5,1313.0C1524.9,1313.3 1525.5,1319.7 1526.0,1322.4C1526.5,1325.1 1526.9,1330.5 1527.3,1329.9C1527.8,1329.3 1528.4,1321.9 1528.8,1318.6C1529.3,1315.4 1529.7,1311.2 1530.1,1309.8C1530.6,1308.5 1531.2,1308.5 1531.6,1310.2C1532.1,1311.9 1532.7,1316.2 1533.1,1320.5C1533.6,1324.9 1534.1,1332.3 1534.6,1337.4C1535.2,1342.5 1535.8,1348.7 1536.3,1352.5C1536.9,1356.2 1537.7,1360.9 1538.2,1360.9C1538.7,1360.9 1539.1,1358.3 1539.5,1352.5C1540.0,1346.6 1540.5,1334.8 1541.0,1324.3C1541.5,1313.8 1542.1,1296.3 1542.5,1286.7C1543.0,1277.1 1543.6,1265.7 1544.0,1264.2C1544.5,1262.6 1544.9,1272.3 1545.4,1277.3C1545.8,1282.3 1546.2,1292.4 1546.7,1295.2C1547.1,1297.9 1547.7,1295.9 1548.2,1294.2C1548.6,1292.6 1549.1,1283.9 1549.5,1284.8C1549.9,1285.7 1550.3,1292.6 1550.8,1299.8C1551.3,1307.1 1551.8,1322.4 1552.3,1329.9C1552.8,1337.4 1553.3,1344.7 1553.8,1346.8C1554.3,1348.9 1554.8,1346.1 1555.3,1343.1C1555.8,1340.1 1556.5,1331.0 1557.0,1328.0C1557.5,1325.1 1558.1,1324.9 1558.5,1324.6C1559.0,1324.3 1559.4,1325.7 1559.8,1326.2C1560.3,1326.6 1560.9,1328.9 1561.3,1327.7C1561.8,1326.5 1562.2,1321.1 1562.6,1318.6C1563.1,1316.1 1563.5,1313.1 1564.0,1312.1C1564.4,1311.0 1565.0,1310.4 1565.5,1312.1C1565.9,1313.7 1566.5,1319.9 1567.0,1322.4C1567.4,1324.9 1567.9,1327.7 1568.3,1327.7C1568.7,1327.7 1569.1,1324.1 1569.6,1322.4C1570.0,1320.7 1570.6,1317.6 1571.1,1316.8C1571.6,1315.9 1572.1,1315.3 1572.6,1317.1C1573.0,1318.9 1573.5,1325.1 1573.9,1328.0C1574.3,1331.0 1574.8,1334.2 1575.2,1335.5C1575.7,1336.9 1576.1,1335.6 1576.7,1336.5C1577.3,1337.3 1578.4,1341.9 1579.0,1340.8C1579.6,1339.8 1579.9,1334.7 1580.5,1329.9C1581.0,1325.2 1581.8,1315.2 1582.4,1311.1C1582.9,1307.1 1583.4,1305.6 1583.9,1304.5C1584.3,1303.5 1584.7,1303.3 1585.2,1304.5C1585.7,1305.7 1586.5,1309.8 1587.1,1312.1C1587.7,1314.3 1588.3,1316.5 1588.9,1318.6C1589.5,1320.7 1590.2,1325.8 1590.8,1325.2C1591.4,1324.6 1592.1,1319.5 1592.7,1314.9C1593.3,1310.2 1594.1,1303.6 1594.6,1296.1C1595.1,1288.6 1595.5,1276.9 1595.9,1267.9C1596.3,1258.9 1596.7,1247.5 1597.0,1239.7C1597.3,1231.9 1597.6,1222.4 1598.0,1219.1C1598.3,1215.7 1598.9,1213.9 1599.3,1218.7C1599.7,1223.5 1600.0,1238.2 1600.4,1249.1C1600.8,1260.0 1601.2,1277.7 1601.5,1286.7C1601.9,1295.7 1602.3,1302.6 1602.7,1305.5C1603.0,1308.3 1603.3,1306.5 1603.6,1304.5C1603.9,1302.6 1604.2,1295.3 1604.5,1293.3C1604.9,1291.3 1605.4,1291.4 1605.8,1292.0C1606.3,1292.6 1606.7,1294.9 1607.2,1297.0C1607.6,1299.2 1608.2,1302.3 1608.7,1305.5C1609.1,1308.6 1609.7,1313.9 1610.2,1316.8C1610.7,1319.6 1611.3,1325.1 1611.9,1323.3C1612.4,1321.5 1612.9,1311.9 1613.4,1305.5C1613.8,1299.0 1614.3,1284.4 1614.7,1282.9C1615.1,1281.4 1615.4,1289.3 1615.8,1296.1C1616.2,1302.9 1616.7,1320.7 1617.1,1325.2C1617.5,1329.7 1618.0,1325.6 1618.4,1324.3C1618.9,1322.9 1619.5,1318.1 1619.9,1316.8C1620.3,1315.4 1620.5,1313.7 1620.9,1315.8C1621.2,1317.9 1621.7,1325.2 1622.2,1329.9C1622.6,1334.6 1623.3,1342.1 1623.7,1344.9C1624.1,1347.8 1624.3,1349.0 1624.6,1347.8C1625.0,1346.6 1625.5,1342.7 1626.0,1337.4C1626.4,1332.2 1627.0,1320.9 1627.5,1314.9C1627.9,1308.9 1628.4,1302.9 1629.0,1299.8C1629.5,1296.8 1630.3,1298.2 1630.8,1296.1C1631.4,1294.0 1631.9,1288.7 1632.3,1286.7C1632.8,1284.7 1633.1,1283.3 1633.5,1283.3C1633.8,1283.3 1634.2,1283.1 1634.6,1286.7C1635.0,1290.2 1635.5,1299.2 1635.9,1305.5C1636.3,1311.8 1636.8,1320.9 1637.2,1326.2C1637.7,1331.4 1638.2,1337.0 1638.7,1338.4C1639.2,1339.7 1640.0,1335.2 1640.2,1334.6" fill="none" stroke="#3a3a3a" stroke-width="0.95" stroke-linejoin="round"/>
<path d="M1352.40,1134.55V1386.20M1345.90,1385.60H1639.70" fill="none" stroke="#0c0c0c" stroke-width="1.45"/>
<path d="M1345.90,1385.60H1352.40M1348.40,1380.59H1352.40M1348.40,1375.58H1352.40M1348.40,1370.57H1352.40M1348.40,1365.56H1352.40M1347.20,1360.55H1352.40M1348.40,1355.55H1352.40M1348.40,1350.54H1352.40M1348.40,1345.53H1352.40M1348.40,1340.52H1352.40M1345.90,1335.51H1352.40M1348.40,1330.50H1352.40M1348.40,1325.49H1352.40M1348.40,1320.48H1352.40M1348.40,1315.47H1352.40M1347.20,1310.46H1352.40M1348.40,1305.46H1352.40M1348.40,1300.45H1352.40M1348.40,1295.44H1352.40M1348.40,1290.43H1352.40M1345.90,1285.42H1352.40M1348.40,1280.41H1352.40M1348.40,1275.40H1352.40M1348.40,1270.39H1352.40M1348.40,1265.38H1352.40M1347.20,1260.38H1352.40M1348.40,1255.37H1352.40M1348.40,1250.36H1352.40M1348.40,1245.35H1352.40M1348.40,1240.34H1352.40M1345.90,1235.33H1352.40M1348.40,1230.32H1352.40M1348.40,1225.31H1352.40M1348.40,1220.30H1352.40M1348.40,1215.29H1352.40M1347.20,1210.29H1352.40M1348.40,1205.28H1352.40M1348.40,1200.27H1352.40M1348.40,1195.26H1352.40M1348.40,1190.25H1352.40M1345.90,1185.24H1352.40M1348.40,1180.23H1352.40M1348.40,1175.22H1352.40M1348.40,1170.21H1352.40M1348.40,1165.20H1352.40M1347.20,1160.20H1352.40M1348.40,1155.19H1352.40M1348.40,1150.18H1352.40M1348.40,1145.17H1352.40M1348.40,1140.16H1352.40M1345.90,1135.15H1352.40M1354.60,1385.60V1388.20M1357.47,1385.60V1388.20M1360.35,1385.60V1388.20M1363.22,1385.60V1388.20M1366.09,1385.60V1390.20M1368.97,1385.60V1388.20M1371.84,1385.60V1388.20M1374.72,1385.60V1388.20M1377.59,1385.60V1388.20M1380.46,1385.60V1390.20M1383.34,1385.60V1388.20M1386.21,1385.60V1388.20M1389.08,1385.60V1388.20M1391.96,1385.60V1388.20M1394.83,1385.60V1390.20M1397.71,1385.60V1388.20M1400.58,1385.60V1388.20M1403.45,1385.60V1388.20M1406.33,1385.60V1388.20M1409.20,1385.60V1392.50M1412.07,1385.60V1388.20M1414.95,1385.60V1388.20M1417.82,1385.60V1388.20M1420.69,1385.60V1388.20M1423.57,1385.60V1390.20M1426.44,1385.60V1388.20M1429.32,1385.60V1388.20M1432.19,1385.60V1388.20M1435.06,1385.60V1388.20M1437.94,1385.60V1390.20M1440.81,1385.60V1388.20M1443.68,1385.60V1388.20M1446.56,1385.60V1388.20M1449.43,1385.60V1388.20M1452.31,1385.60V1390.20M1455.18,1385.60V1388.20M1458.05,1385.60V1388.20M1460.93,1385.60V1388.20M1463.80,1385.60V1388.20M1466.67,1385.60V1392.50M1469.55,1385.60V1388.20M1472.42,1385.60V1388.20M1475.30,1385.60V1388.20M1478.17,1385.60V1388.20M1481.04,1385.60V1390.20M1483.92,1385.60V1388.20M1486.79,1385.60V1388.20M1489.66,1385.60V1388.20M1492.54,1385.60V1388.20M1495.41,1385.60V1390.20M1498.29,1385.60V1388.20M1501.16,1385.60V1388.20M1504.03,1385.60V1388.20M1506.91,1385.60V1388.20M1509.78,1385.60V1390.20M1512.65,1385.60V1388.20M1515.53,1385.60V1388.20M1518.40,1385.60V1388.20M1521.28,1385.60V1388.20M1524.15,1385.60V1392.50M1527.02,1385.60V1388.20M1529.90,1385.60V1388.20M1532.77,1385.60V1388.20M1535.64,1385.60V1388.20M1538.52,1385.60V1390.20M1541.39,1385.60V1388.20M1544.27,1385.60V1388.20M1547.14,1385.60V1388.20M1550.01,1385.60V1388.20M1552.89,1385.60V1390.20M1555.76,1385.60V1388.20M1558.63,1385.60V1388.20M1561.51,1385.60V1388.20M1564.38,1385.60V1388.20M1567.26,1385.60V1390.20M1570.13,1385.60V1388.20M1573.00,1385.60V1388.20M1575.88,1385.60V1388.20M1578.75,1385.60V1388.20M1581.62,1385.60V1392.50M1584.50,1385.60V1388.20M1587.37,1385.60V1388.20M1590.25,1385.60V1388.20M1593.12,1385.60V1388.20M1595.99,1385.60V1390.20M1598.87,1385.60V1388.20M1601.74,1385.60V1388.20M1604.62,1385.60V1388.20M1607.49,1385.60V1388.20M1610.36,1385.60V1390.20M1613.24,1385.60V1388.20M1616.11,1385.60V1388.20M1618.98,1385.60V1388.20M1621.86,1385.60V1388.20M1624.73,1385.60V1390.20M1627.61,1385.60V1388.20M1630.48,1385.60V1388.20M1633.35,1385.60V1388.20M1636.23,1385.60V1388.20M1639.10,1385.60V1392.50" fill="none" stroke="#0c0c0c" stroke-width="1.15"/>
<text transform="translate(1345.0,1387.8) scale(1,1.14)" font-size="12" letter-spacing="0.45" text-anchor="end" fill="#222">0</text>
<text transform="translate(1345.0,1338.1) scale(1,1.14)" font-size="12" letter-spacing="0.45" text-anchor="end" fill="#222">20</text>
<text transform="translate(1345.0,1288.3) scale(1,1.14)" font-size="12" letter-spacing="0.45" text-anchor="end" fill="#222">40</text>
<text transform="translate(1345.0,1238.5) scale(1,1.14)" font-size="12" letter-spacing="0.45" text-anchor="end" fill="#222">60</text>
<text transform="translate(1345.0,1188.8) scale(1,1.14)" font-size="12" letter-spacing="0.45" text-anchor="end" fill="#222">80</text>
<text transform="translate(1345.0,1139.1) scale(1,1.14)" font-size="12" letter-spacing="0.45" text-anchor="end" fill="#222">100</text>
<text transform="translate(1408.6,1405.6) scale(1,1.17)" font-size="12.3" text-anchor="middle" fill="#222">2</text>
<text transform="translate(1466.1,1405.6) scale(1,1.17)" font-size="12.3" text-anchor="middle" fill="#222">4</text>
<text transform="translate(1523.6,1405.6) scale(1,1.17)" font-size="12.3" text-anchor="middle" fill="#222">6</text>
<text transform="translate(1581.0,1405.6) scale(1,1.17)" font-size="12.3" text-anchor="middle" fill="#222">8</text>
<text transform="translate(1637.3,1405.6) scale(1,1.17)" font-size="12.3" text-anchor="middle" fill="#222">10</text>
<line x1="1171.3" y1="21.5" x2="1171.3" y2="1383.8" stroke="#d64e2e" stroke-width="1.55" />
<line x1="1498.2" y1="19.8" x2="1498.2" y2="1385.6" stroke="#d64e2e" stroke-width="1.5" />
</g>
</svg>
</body></html>
